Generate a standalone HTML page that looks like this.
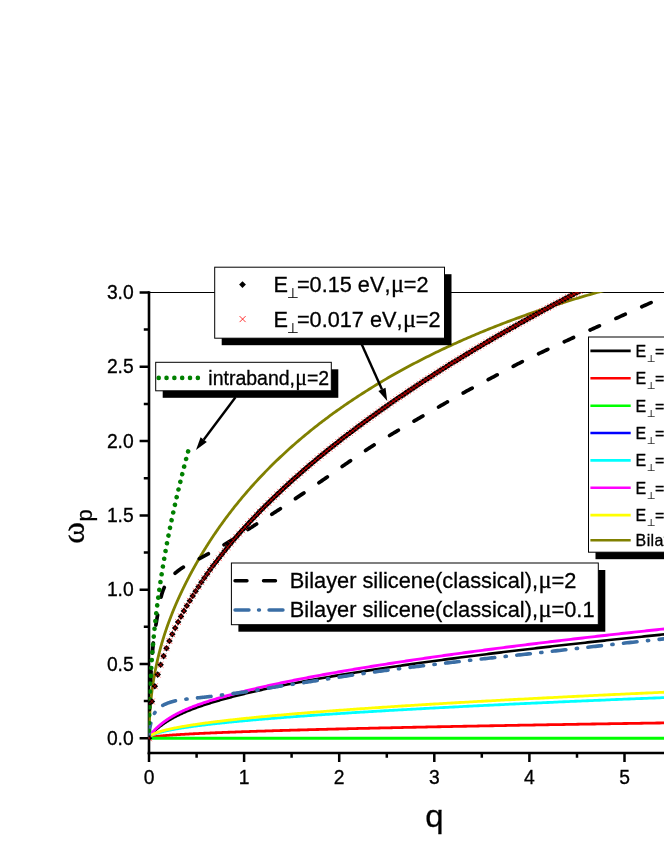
<!DOCTYPE html>
<html><head><meta charset="utf-8"><title>plot</title>
<style>html,body{margin:0;padding:0;background:#fff;}svg{display:block;font-family:"Liberation Sans",sans-serif;font-kerning:none;will-change:transform;-webkit-font-smoothing:antialiased;}text{stroke:#000;stroke-width:.3px;}.s{font-family:"Liberation Serif",serif;}.n{stroke-width:.15px;}</style></head><body>
<svg width="664" height="860" viewBox="0 0 664 860">
<rect width="664" height="860" fill="#fff"/>
<defs><clipPath id="cp"><rect x="148.5" y="292" width="530" height="470"/></clipPath></defs>
<g stroke="#000" fill="none">
<path d="M148 292.5 H664" stroke-width="1"/>
<path d="M149 291.2 V754.3" stroke-width="2.6"/>
<path d="M147.7 753.0 H664" stroke-width="2.6"/>
<path d="M139.6 738.3H149 M139.6 664.0H149 M139.6 589.7H149 M139.6 515.4H149 M139.6 441.1H149 M139.6 366.8H149 M139.6 292.5H149 M143.8 701.1H149 M143.8 626.8H149 M143.8 552.5H149 M143.8 478.2H149 M143.8 403.9H149 M143.8 329.6H149 " stroke-width="2.5"/>
<path d="M149.0 753.0V762 M244.1 753.0V762 M339.2 753.0V762 M434.3 753.0V762 M529.4 753.0V762 M624.5 753.0V762 M196.6 753.0V757.8 M291.6 753.0V757.8 M386.8 753.0V757.8 M481.8 753.0V757.8 M577.0 753.0V757.8 M672.0 753.0V757.8 " stroke-width="2.5"/>
</g>
<g font-size="18" fill="#000">
<text transform="translate(133.7 744.9) scale(1 1.045)" font-size="19.3" text-anchor="end" >0.0</text>
<text transform="translate(133.7 670.6) scale(1 1.045)" font-size="19.3" text-anchor="end" >0.5</text>
<text transform="translate(133.7 596.3) scale(1 1.045)" font-size="19.3" text-anchor="end" >1.0</text>
<text transform="translate(133.7 522.0) scale(1 1.045)" font-size="19.3" text-anchor="end" >1.5</text>
<text transform="translate(133.7 447.7) scale(1 1.045)" font-size="19.3" text-anchor="end" >2.0</text>
<text transform="translate(133.7 373.4) scale(1 1.045)" font-size="19.3" text-anchor="end" >2.5</text>
<text transform="translate(133.7 299.1) scale(1 1.045)" font-size="19.3" text-anchor="end" >3.0</text>
<text transform="translate(149.0 783.8) scale(1 1.045)" font-size="19.3" text-anchor="middle" >0</text>
<text transform="translate(244.1 783.8) scale(1 1.045)" font-size="19.3" text-anchor="middle" >1</text>
<text transform="translate(339.2 783.8) scale(1 1.045)" font-size="19.3" text-anchor="middle" >2</text>
<text transform="translate(434.3 783.8) scale(1 1.045)" font-size="19.3" text-anchor="middle" >3</text>
<text transform="translate(529.4 783.8) scale(1 1.045)" font-size="19.3" text-anchor="middle" >4</text>
<text transform="translate(624.5 783.8) scale(1 1.045)" font-size="19.3" text-anchor="middle" >5</text>
</g>
<text transform="translate(434.3 827.4) scale(1 0.945)" font-size="32.9" text-anchor="middle" >q</text>
<g transform="translate(84.3 543.8) rotate(-90)"><text class="s" font-size="33" transform="scale(1 0.955)" x="0" y="0">ω</text><text x="22.4" y="7.9" font-size="22">p</text></g>
<g clip-path="url(#cp)" fill="none" stroke-linejoin="round">
<path d="M149.00,738.30 L149.00,738.17 L149.01,738.04 L149.03,737.91 L149.05,737.78 L149.08,737.64 L149.12,737.51 L149.16,737.37 L149.21,737.24 L149.26,737.10 L149.33,736.96 L149.39,736.82 L149.47,736.68 L149.55,736.53 L149.64,736.38 L149.73,736.23 L149.83,736.08 L149.94,735.93 L150.05,735.77 L150.18,735.61 L150.30,735.44 L150.44,735.27 L150.58,735.10 L150.72,734.93 L150.88,734.75 L151.03,734.57 L151.20,734.38 L151.37,734.19 L151.55,734.00 L151.74,733.81 L151.93,733.60 L152.13,733.40 L152.33,733.19 L152.55,732.98 L152.76,732.77 L152.99,732.55 L153.22,732.32 L153.46,732.10 L153.70,731.86 L153.95,731.63 L154.21,731.39 L154.47,731.15 L154.74,730.90 L155.02,730.65 L155.30,730.40 L155.59,730.15 L155.89,729.89 L156.19,729.63 L156.50,729.36 L156.82,729.09 L157.14,728.82 L157.47,728.55 L157.80,728.27 L158.14,727.99 L158.49,727.71 L158.85,727.42 L159.21,727.14 L159.58,726.85 L159.95,726.56 L160.33,726.27 L160.72,725.97 L161.11,725.68 L161.51,725.38 L161.92,725.08 L162.33,724.78 L162.75,724.48 L163.18,724.17 L163.61,723.87 L164.05,723.56 L164.50,723.26 L164.95,722.95 L165.41,722.64 L165.88,722.34 L166.35,722.03 L166.83,721.72 L167.31,721.41 L167.80,721.10 L168.30,720.79 L168.81,720.48 L169.32,720.17 L169.84,719.86 L170.36,719.55 L170.89,719.24 L171.43,718.94 L171.97,718.63 L172.52,718.32 L173.08,718.01 L173.64,717.70 L174.21,717.40 L174.79,717.09 L175.37,716.78 L175.96,716.48 L176.56,716.17 L177.16,715.87 L177.77,715.57 L178.38,715.26 L179.00,714.96 L179.63,714.66 L180.27,714.36 L180.91,714.06 L181.56,713.76 L182.21,713.46 L182.87,713.16 L183.54,712.86 L184.21,712.57 L184.89,712.27 L185.58,711.98 L186.27,711.68 L186.97,711.39 L187.68,711.10 L188.39,710.80 L189.11,710.51 L189.84,710.22 L190.57,709.93 L191.31,709.64 L192.06,709.35 L192.81,709.07 L193.57,708.78 L194.33,708.49 L195.10,708.21 L195.88,707.92 L196.67,707.64 L197.46,707.35 L198.25,707.07 L199.06,706.78 L199.87,706.50 L200.69,706.22 L201.51,705.94 L202.34,705.66 L203.18,705.38 L204.02,705.09 L204.87,704.81 L205.73,704.54 L206.59,704.26 L207.46,703.98 L208.33,703.70 L209.22,703.42 L210.10,703.14 L211.00,702.87 L211.90,702.59 L212.81,702.31 L213.72,702.04 L214.65,701.76 L215.57,701.49 L216.51,701.21 L217.45,700.94 L218.40,700.66 L219.35,700.39 L220.31,700.12 L221.28,699.84 L222.25,699.57 L223.23,699.30 L224.22,699.02 L225.21,698.75 L226.21,698.48 L227.22,698.21 L228.23,697.93 L229.25,697.66 L230.27,697.39 L231.30,697.12 L232.34,696.85 L233.39,696.58 L234.44,696.31 L235.50,696.04 L236.56,695.77 L237.63,695.50 L238.71,695.23 L239.80,694.96 L240.89,694.69 L241.98,694.42 L243.09,694.15 L244.20,693.88 L245.31,693.61 L246.44,693.35 L247.57,693.08 L248.70,692.81 L249.85,692.54 L250.99,692.27 L252.15,692.01 L253.31,691.74 L254.48,691.47 L255.66,691.20 L256.84,690.94 L258.03,690.67 L259.22,690.40 L260.42,690.14 L261.63,689.87 L262.85,689.60 L264.07,689.34 L265.29,689.07 L266.53,688.80 L267.77,688.54 L269.01,688.27 L270.27,688.01 L271.53,687.74 L272.79,687.48 L274.07,687.21 L275.35,686.95 L276.63,686.68 L277.93,686.42 L279.22,686.15 L280.53,685.89 L281.84,685.62 L283.16,685.36 L284.49,685.09 L285.82,684.83 L287.15,684.56 L288.50,684.30 L289.85,684.04 L291.21,683.77 L292.57,683.51 L293.94,683.24 L295.32,682.98 L296.70,682.72 L298.09,682.45 L299.49,682.19 L300.89,681.92 L302.30,681.66 L303.72,681.40 L305.14,681.13 L306.57,680.87 L308.01,680.61 L309.45,680.34 L310.90,680.08 L312.35,679.82 L313.81,679.56 L315.28,679.29 L316.76,679.03 L318.24,678.77 L319.73,678.50 L321.22,678.24 L322.72,677.98 L324.23,677.72 L325.74,677.45 L327.26,677.19 L328.79,676.93 L330.32,676.67 L331.86,676.40 L333.41,676.14 L334.96,675.88 L336.52,675.62 L338.09,675.36 L339.66,675.09 L341.24,674.83 L342.83,674.57 L344.42,674.31 L346.02,674.04 L347.62,673.78 L349.23,673.52 L350.85,673.26 L352.48,673.00 L354.11,672.74 L355.74,672.47 L357.39,672.21 L359.04,671.95 L360.70,671.69 L362.36,671.43 L364.03,671.16 L365.71,670.90 L367.39,670.64 L369.08,670.38 L370.77,670.12 L372.48,669.86 L374.19,669.59 L375.90,669.33 L377.62,669.07 L379.35,668.81 L381.09,668.55 L382.83,668.29 L384.58,668.02 L386.33,667.76 L388.09,667.50 L389.86,667.24 L391.64,666.98 L393.42,666.72 L395.20,666.46 L397.00,666.19 L398.80,665.93 L400.61,665.67 L402.42,665.41 L404.24,665.15 L406.07,664.89 L407.90,664.63 L409.74,664.36 L411.58,664.10 L413.44,663.84 L415.30,663.58 L417.16,663.32 L419.03,663.06 L420.91,662.80 L422.80,662.53 L424.69,662.27 L426.59,662.01 L428.49,661.75 L430.40,661.49 L432.32,661.23 L434.24,660.97 L436.17,660.70 L438.11,660.44 L440.05,660.18 L442.00,659.92 L443.96,659.66 L445.92,659.40 L447.89,659.14 L449.87,658.88 L451.85,658.61 L453.84,658.35 L455.84,658.09 L457.84,657.83 L459.85,657.57 L461.86,657.31 L463.89,657.05 L465.91,656.78 L467.95,656.52 L469.99,656.26 L472.04,656.00 L474.09,655.74 L476.15,655.48 L478.22,655.22 L480.29,654.96 L482.37,654.69 L484.46,654.43 L486.55,654.17 L488.65,653.91 L490.76,653.65 L492.87,653.39 L494.99,653.13 L497.12,652.87 L499.25,652.60 L501.39,652.34 L503.53,652.08 L505.69,651.82 L507.85,651.56 L510.01,651.30 L512.18,651.04 L514.36,650.77 L516.54,650.51 L518.74,650.25 L520.93,649.99 L523.14,649.73 L525.35,649.47 L527.56,649.21 L529.79,648.95 L532.02,648.68 L534.25,648.42 L536.50,648.16 L538.75,647.90 L541.00,647.64 L543.27,647.38 L545.54,647.12 L547.81,646.86 L550.09,646.59 L552.38,646.33 L554.68,646.07 L556.98,645.81 L559.29,645.55 L561.60,645.29 L563.92,645.03 L566.25,644.77 L568.59,644.50 L570.93,644.24 L573.27,643.98 L575.63,643.72 L577.99,643.46 L580.35,643.20 L582.73,642.94 L585.11,642.68 L587.49,642.41 L589.89,642.15 L592.29,641.89 L594.69,641.63 L597.10,641.37 L599.52,641.11 L601.95,640.85 L604.38,640.59 L606.82,640.32 L609.26,640.06 L611.72,639.80 L614.17,639.54 L616.64,639.28 L619.11,639.02 L621.59,638.76 L624.07,638.50 L626.56,638.23 L629.06,637.97 L631.56,637.71 L634.07,637.45 L636.59,637.19 L639.11,636.93 L641.64,636.67 L644.18,636.40 L646.72,636.14 L649.27,635.88 L651.82,635.62 L654.39,635.36 L656.96,635.10 L659.53,634.84 L662.11,634.58 L664.70,634.31 L667.29,634.05" stroke="#000" stroke-width="2.6" />
<path d="M149.00,738.30 L149.00,738.26 L149.01,738.22 L149.03,738.18 L149.05,738.15 L149.08,738.11 L149.12,738.07 L149.16,738.03 L149.21,737.99 L149.26,737.95 L149.33,737.91 L149.39,737.87 L149.47,737.84 L149.55,737.80 L149.64,737.76 L149.73,737.72 L149.83,737.68 L149.94,737.64 L150.05,737.60 L150.18,737.56 L150.30,737.53 L150.44,737.49 L150.58,737.45 L150.72,737.41 L150.88,737.37 L151.03,737.33 L151.20,737.29 L151.37,737.26 L151.55,737.22 L151.74,737.18 L151.93,737.14 L152.13,737.10 L152.33,737.06 L152.55,737.02 L152.76,736.98 L152.99,736.95 L153.22,736.91 L153.46,736.87 L153.70,736.83 L153.95,736.79 L154.21,736.75 L154.47,736.71 L154.74,736.67 L155.02,736.64 L155.30,736.60 L155.59,736.56 L155.89,736.52 L156.19,736.48 L156.50,736.44 L156.82,736.40 L157.14,736.37 L157.47,736.33 L157.80,736.29 L158.14,736.25 L158.49,736.21 L158.85,736.17 L159.21,736.13 L159.58,736.09 L159.95,736.06 L160.33,736.02 L160.72,735.98 L161.11,735.94 L161.51,735.90 L161.92,735.86 L162.33,735.82 L162.75,735.79 L163.18,735.75 L163.61,735.71 L164.05,735.67 L164.50,735.63 L164.95,735.59 L165.41,735.55 L165.88,735.51 L166.35,735.48 L166.83,735.44 L167.31,735.40 L167.80,735.36 L168.30,735.32 L168.81,735.28 L169.32,735.24 L169.84,735.20 L170.36,735.17 L170.89,735.13 L171.43,735.09 L171.97,735.05 L172.52,735.01 L173.08,734.97 L173.64,734.93 L174.21,734.90 L174.79,734.86 L175.37,734.82 L175.96,734.78 L176.56,734.74 L177.16,734.70 L177.77,734.66 L178.38,734.62 L179.00,734.59 L179.63,734.55 L180.27,734.51 L180.91,734.47 L181.56,734.43 L182.21,734.39 L182.87,734.35 L183.54,734.31 L184.21,734.28 L184.89,734.24 L185.58,734.20 L186.27,734.16 L186.97,734.12 L187.68,734.08 L188.39,734.04 L189.11,734.01 L189.84,733.97 L190.57,733.93 L191.31,733.89 L192.06,733.85 L192.81,733.81 L193.57,733.77 L194.33,733.73 L195.10,733.70 L195.88,733.66 L196.67,733.62 L197.46,733.58 L198.25,733.54 L199.06,733.50 L199.87,733.46 L200.69,733.42 L201.51,733.39 L202.34,733.35 L203.18,733.31 L204.02,733.27 L204.87,733.23 L205.73,733.19 L206.59,733.15 L207.46,733.12 L208.33,733.08 L209.22,733.04 L210.10,733.00 L211.00,732.96 L211.90,732.92 L212.81,732.88 L213.72,732.84 L214.65,732.81 L215.57,732.77 L216.51,732.73 L217.45,732.69 L218.40,732.65 L219.35,732.61 L220.31,732.57 L221.28,732.54 L222.25,732.50 L223.23,732.46 L224.22,732.42 L225.21,732.38 L226.21,732.34 L227.22,732.30 L228.23,732.26 L229.25,732.23 L230.27,732.19 L231.30,732.15 L232.34,732.11 L233.39,732.07 L234.44,732.03 L235.50,731.99 L236.56,731.95 L237.63,731.92 L238.71,731.88 L239.80,731.84 L240.89,731.80 L241.98,731.76 L243.09,731.72 L244.20,731.68 L245.31,731.65 L246.44,731.61 L247.57,731.57 L248.70,731.53 L249.85,731.49 L250.99,731.45 L252.15,731.41 L253.31,731.37 L254.48,731.34 L255.66,731.30 L256.84,731.26 L258.03,731.22 L259.22,731.18 L260.42,731.14 L261.63,731.10 L262.85,731.06 L264.07,731.03 L265.29,730.99 L266.53,730.95 L267.77,730.91 L269.01,730.87 L270.27,730.83 L271.53,730.79 L272.79,730.76 L274.07,730.72 L275.35,730.68 L276.63,730.64 L277.93,730.60 L279.22,730.56 L280.53,730.52 L281.84,730.48 L283.16,730.45 L284.49,730.41 L285.82,730.37 L287.15,730.33 L288.50,730.29 L289.85,730.25 L291.21,730.21 L292.57,730.17 L293.94,730.14 L295.32,730.10 L296.70,730.06 L298.09,730.02 L299.49,729.98 L300.89,729.94 L302.30,729.90 L303.72,729.87 L305.14,729.83 L306.57,729.79 L308.01,729.75 L309.45,729.71 L310.90,729.67 L312.35,729.63 L313.81,729.59 L315.28,729.56 L316.76,729.52 L318.24,729.48 L319.73,729.44 L321.22,729.40 L322.72,729.36 L324.23,729.32 L325.74,729.29 L327.26,729.25 L328.79,729.21 L330.32,729.17 L331.86,729.13 L333.41,729.09 L334.96,729.05 L336.52,729.01 L338.09,728.98 L339.66,728.94 L341.24,728.90 L342.83,728.86 L344.42,728.82 L346.02,728.78 L347.62,728.74 L349.23,728.70 L350.85,728.67 L352.48,728.63 L354.11,728.59 L355.74,728.55 L357.39,728.51 L359.04,728.47 L360.70,728.43 L362.36,728.40 L364.03,728.36 L365.71,728.32 L367.39,728.28 L369.08,728.24 L370.77,728.20 L372.48,728.16 L374.19,728.12 L375.90,728.09 L377.62,728.05 L379.35,728.01 L381.09,727.97 L382.83,727.93 L384.58,727.89 L386.33,727.85 L388.09,727.81 L389.86,727.78 L391.64,727.74 L393.42,727.70 L395.20,727.66 L397.00,727.62 L398.80,727.58 L400.61,727.54 L402.42,727.51 L404.24,727.47 L406.07,727.43 L407.90,727.39 L409.74,727.35 L411.58,727.31 L413.44,727.27 L415.30,727.23 L417.16,727.20 L419.03,727.16 L420.91,727.12 L422.80,727.08 L424.69,727.04 L426.59,727.00 L428.49,726.96 L430.40,726.92 L432.32,726.89 L434.24,726.85 L436.17,726.81 L438.11,726.77 L440.05,726.73 L442.00,726.69 L443.96,726.65 L445.92,726.62 L447.89,726.58 L449.87,726.54 L451.85,726.50 L453.84,726.46 L455.84,726.42 L457.84,726.38 L459.85,726.34 L461.86,726.31 L463.89,726.27 L465.91,726.23 L467.95,726.19 L469.99,726.15 L472.04,726.11 L474.09,726.07 L476.15,726.04 L478.22,726.00 L480.29,725.96 L482.37,725.92 L484.46,725.88 L486.55,725.84 L488.65,725.80 L490.76,725.76 L492.87,725.73 L494.99,725.69 L497.12,725.65 L499.25,725.61 L501.39,725.57 L503.53,725.53 L505.69,725.49 L507.85,725.45 L510.01,725.42 L512.18,725.38 L514.36,725.34 L516.54,725.30 L518.74,725.26 L520.93,725.22 L523.14,725.18 L525.35,725.15 L527.56,725.11 L529.79,725.07 L532.02,725.03 L534.25,724.99 L536.50,724.95 L538.75,724.91 L541.00,724.87 L543.27,724.84 L545.54,724.80 L547.81,724.76 L550.09,724.72 L552.38,724.68 L554.68,724.64 L556.98,724.60 L559.29,724.56 L561.60,724.53 L563.92,724.49 L566.25,724.45 L568.59,724.41 L570.93,724.37 L573.27,724.33 L575.63,724.29 L577.99,724.26 L580.35,724.22 L582.73,724.18 L585.11,724.14 L587.49,724.10 L589.89,724.06 L592.29,724.02 L594.69,723.98 L597.10,723.95 L599.52,723.91 L601.95,723.87 L604.38,723.83 L606.82,723.79 L609.26,723.75 L611.72,723.71 L614.17,723.67 L616.64,723.64 L619.11,723.60 L621.59,723.56 L624.07,723.52 L626.56,723.48 L629.06,723.44 L631.56,723.40 L634.07,723.37 L636.59,723.33 L639.11,723.29 L641.64,723.25 L644.18,723.21 L646.72,723.17 L649.27,723.13 L651.82,723.09 L654.39,723.06 L656.96,723.02 L659.53,722.98 L662.11,722.94 L664.70,722.90 L667.29,722.86" stroke="#ff0000" stroke-width="2.8" />
<path d="M149.00,738.30 L149.00,738.30 L149.01,738.30 L149.03,738.30 L149.05,738.30 L149.08,738.30 L149.12,738.30 L149.16,738.30 L149.21,738.30 L149.26,738.30 L149.33,738.30 L149.39,738.30 L149.47,738.30 L149.55,738.30 L149.64,738.30 L149.73,738.30 L149.83,738.30 L149.94,738.30 L150.05,738.30 L150.18,738.30 L150.30,738.30 L150.44,738.30 L150.58,738.30 L150.72,738.30 L150.88,738.30 L151.03,738.30 L151.20,738.30 L151.37,738.30 L151.55,738.30 L151.74,738.30 L151.93,738.30 L152.13,738.30 L152.33,738.30 L152.55,738.30 L152.76,738.30 L152.99,738.30 L153.22,738.30 L153.46,738.30 L153.70,738.30 L153.95,738.30 L154.21,738.30 L154.47,738.30 L154.74,738.30 L155.02,738.30 L155.30,738.30 L155.59,738.30 L155.89,738.30 L156.19,738.30 L156.50,738.30 L156.82,738.30 L157.14,738.30 L157.47,738.30 L157.80,738.30 L158.14,738.30 L158.49,738.30 L158.85,738.30 L159.21,738.30 L159.58,738.30 L159.95,738.30 L160.33,738.30 L160.72,738.30 L161.11,738.30 L161.51,738.30 L161.92,738.30 L162.33,738.30 L162.75,738.30 L163.18,738.30 L163.61,738.30 L164.05,738.30 L164.50,738.30 L164.95,738.30 L165.41,738.30 L165.88,738.30 L166.35,738.30 L166.83,738.30 L167.31,738.30 L167.80,738.30 L168.30,738.30 L168.81,738.30 L169.32,738.30 L169.84,738.30 L170.36,738.30 L170.89,738.30 L171.43,738.30 L171.97,738.30 L172.52,738.30 L173.08,738.30 L173.64,738.30 L174.21,738.30 L174.79,738.30 L175.37,738.30 L175.96,738.30 L176.56,738.30 L177.16,738.30 L177.77,738.30 L178.38,738.30 L179.00,738.30 L179.63,738.30 L180.27,738.30 L180.91,738.30 L181.56,738.30 L182.21,738.30 L182.87,738.30 L183.54,738.30 L184.21,738.30 L184.89,738.30 L185.58,738.30 L186.27,738.30 L186.97,738.30 L187.68,738.30 L188.39,738.30 L189.11,738.30 L189.84,738.30 L190.57,738.30 L191.31,738.30 L192.06,738.30 L192.81,738.30 L193.57,738.30 L194.33,738.30 L195.10,738.30 L195.88,738.30 L196.67,738.30 L197.46,738.30 L198.25,738.30 L199.06,738.30 L199.87,738.30 L200.69,738.30 L201.51,738.30 L202.34,738.30 L203.18,738.30 L204.02,738.30 L204.87,738.30 L205.73,738.30 L206.59,738.30 L207.46,738.30 L208.33,738.30 L209.22,738.30 L210.10,738.30 L211.00,738.30 L211.90,738.30 L212.81,738.30 L213.72,738.30 L214.65,738.30 L215.57,738.30 L216.51,738.30 L217.45,738.30 L218.40,738.30 L219.35,738.30 L220.31,738.30 L221.28,738.30 L222.25,738.30 L223.23,738.30 L224.22,738.30 L225.21,738.30 L226.21,738.30 L227.22,738.30 L228.23,738.30 L229.25,738.30 L230.27,738.30 L231.30,738.30 L232.34,738.30 L233.39,738.30 L234.44,738.30 L235.50,738.30 L236.56,738.30 L237.63,738.30 L238.71,738.30 L239.80,738.30 L240.89,738.30 L241.98,738.30 L243.09,738.30 L244.20,738.30 L245.31,738.30 L246.44,738.30 L247.57,738.30 L248.70,738.30 L249.85,738.30 L250.99,738.30 L252.15,738.30 L253.31,738.30 L254.48,738.30 L255.66,738.30 L256.84,738.30 L258.03,738.30 L259.22,738.30 L260.42,738.30 L261.63,738.30 L262.85,738.30 L264.07,738.30 L265.29,738.30 L266.53,738.30 L267.77,738.30 L269.01,738.30 L270.27,738.30 L271.53,738.30 L272.79,738.30 L274.07,738.30 L275.35,738.30 L276.63,738.30 L277.93,738.30 L279.22,738.30 L280.53,738.30 L281.84,738.30 L283.16,738.30 L284.49,738.30 L285.82,738.30 L287.15,738.30 L288.50,738.30 L289.85,738.30 L291.21,738.30 L292.57,738.30 L293.94,738.30 L295.32,738.30 L296.70,738.30 L298.09,738.30 L299.49,738.30 L300.89,738.30 L302.30,738.30 L303.72,738.30 L305.14,738.30 L306.57,738.30 L308.01,738.30 L309.45,738.30 L310.90,738.30 L312.35,738.30 L313.81,738.30 L315.28,738.30 L316.76,738.30 L318.24,738.30 L319.73,738.30 L321.22,738.30 L322.72,738.30 L324.23,738.30 L325.74,738.30 L327.26,738.30 L328.79,738.30 L330.32,738.30 L331.86,738.30 L333.41,738.30 L334.96,738.30 L336.52,738.30 L338.09,738.30 L339.66,738.30 L341.24,738.30 L342.83,738.30 L344.42,738.30 L346.02,738.30 L347.62,738.30 L349.23,738.30 L350.85,738.30 L352.48,738.30 L354.11,738.30 L355.74,738.30 L357.39,738.30 L359.04,738.30 L360.70,738.30 L362.36,738.30 L364.03,738.30 L365.71,738.30 L367.39,738.30 L369.08,738.30 L370.77,738.30 L372.48,738.30 L374.19,738.30 L375.90,738.30 L377.62,738.30 L379.35,738.30 L381.09,738.30 L382.83,738.30 L384.58,738.30 L386.33,738.30 L388.09,738.30 L389.86,738.30 L391.64,738.30 L393.42,738.30 L395.20,738.30 L397.00,738.30 L398.80,738.30 L400.61,738.30 L402.42,738.30 L404.24,738.30 L406.07,738.30 L407.90,738.30 L409.74,738.30 L411.58,738.30 L413.44,738.30 L415.30,738.30 L417.16,738.30 L419.03,738.30 L420.91,738.30 L422.80,738.30 L424.69,738.30 L426.59,738.30 L428.49,738.30 L430.40,738.30 L432.32,738.30 L434.24,738.30 L436.17,738.30 L438.11,738.30 L440.05,738.30 L442.00,738.30 L443.96,738.30 L445.92,738.30 L447.89,738.30 L449.87,738.30 L451.85,738.30 L453.84,738.30 L455.84,738.30 L457.84,738.30 L459.85,738.30 L461.86,738.30 L463.89,738.30 L465.91,738.30 L467.95,738.30 L469.99,738.30 L472.04,738.30 L474.09,738.30 L476.15,738.30 L478.22,738.30 L480.29,738.30 L482.37,738.30 L484.46,738.30 L486.55,738.30 L488.65,738.30 L490.76,738.30 L492.87,738.30 L494.99,738.30 L497.12,738.30 L499.25,738.30 L501.39,738.30 L503.53,738.30 L505.69,738.30 L507.85,738.30 L510.01,738.30 L512.18,738.30 L514.36,738.30 L516.54,738.30 L518.74,738.30 L520.93,738.30 L523.14,738.30 L525.35,738.30 L527.56,738.30 L529.79,738.30 L532.02,738.30 L534.25,738.30 L536.50,738.30 L538.75,738.30 L541.00,738.30 L543.27,738.30 L545.54,738.30 L547.81,738.30 L550.09,738.30 L552.38,738.30 L554.68,738.30 L556.98,738.30 L559.29,738.30 L561.60,738.30 L563.92,738.30 L566.25,738.30 L568.59,738.30 L570.93,738.30 L573.27,738.30 L575.63,738.30 L577.99,738.30 L580.35,738.30 L582.73,738.30 L585.11,738.30 L587.49,738.30 L589.89,738.30 L592.29,738.30 L594.69,738.30 L597.10,738.30 L599.52,738.30 L601.95,738.30 L604.38,738.30 L606.82,738.30 L609.26,738.30 L611.72,738.30 L614.17,738.30 L616.64,738.30 L619.11,738.30 L621.59,738.30 L624.07,738.30 L626.56,738.30 L629.06,738.30 L631.56,738.30 L634.07,738.30 L636.59,738.30 L639.11,738.30 L641.64,738.30 L644.18,738.30 L646.72,738.30 L649.27,738.30 L651.82,738.30 L654.39,738.30 L656.96,738.30 L659.53,738.30 L662.11,738.30 L664.70,738.30 L667.29,738.30" stroke="#00ff00" stroke-width="3.0" />
<path d="M149.00,738.30 L149.00,738.20 L149.01,738.10 L149.03,737.99 L149.05,737.89 L149.08,737.79 L149.12,737.69 L149.16,737.58 L149.21,737.48 L149.26,737.38 L149.33,737.28 L149.39,737.17 L149.47,737.07 L149.55,736.97 L149.64,736.87 L149.73,736.76 L149.83,736.66 L149.94,736.56 L150.05,736.46 L150.18,736.36 L150.30,736.25 L150.44,736.15 L150.58,736.05 L150.72,735.95 L150.88,735.84 L151.03,735.74 L151.20,735.64 L151.37,735.54 L151.55,735.43 L151.74,735.33 L151.93,735.23 L152.13,735.13 L152.33,735.03 L152.55,734.92 L152.76,734.82 L152.99,734.72 L153.22,734.62 L153.46,734.51 L153.70,734.41 L153.95,734.31 L154.21,734.21 L154.47,734.10 L154.74,734.00 L155.02,733.90 L155.30,733.80 L155.59,733.69 L155.89,733.59 L156.19,733.49 L156.50,733.39 L156.82,733.29 L157.14,733.18 L157.47,733.08 L157.80,732.98 L158.14,732.88 L158.49,732.77 L158.85,732.67 L159.21,732.57 L159.58,732.47 L159.95,732.36 L160.33,732.26 L160.72,732.16 L161.11,732.06 L161.51,731.96 L161.92,731.85 L162.33,731.75 L162.75,731.65 L163.18,731.55 L163.61,731.44 L164.05,731.34 L164.50,731.24 L164.95,731.14 L165.41,731.03 L165.88,730.93 L166.35,730.83 L166.83,730.73 L167.31,730.62 L167.80,730.52 L168.30,730.42 L168.81,730.32 L169.32,730.22 L169.84,730.11 L170.36,730.01 L170.89,729.91 L171.43,729.81 L171.97,729.70 L172.52,729.60 L173.08,729.50 L173.64,729.40 L174.21,729.29 L174.79,729.19 L175.37,729.09 L175.96,728.99 L176.56,728.89 L177.16,728.78 L177.77,728.68 L178.38,728.58 L179.00,728.48 L179.63,728.37 L180.27,728.27 L180.91,728.17 L181.56,728.07 L182.21,727.96 L182.87,727.86 L183.54,727.76 L184.21,727.66 L184.89,727.55 L185.58,727.45 L186.27,727.35 L186.97,727.25 L187.68,727.15 L188.39,727.04 L189.11,726.94 L189.84,726.84 L190.57,726.74 L191.31,726.63 L192.06,726.53 L192.81,726.43 L193.57,726.33 L194.33,726.22 L195.10,726.12 L195.88,726.02 L196.67,725.92 L197.46,725.82 L198.25,725.71 L199.06,725.61 L199.87,725.51 L200.69,725.41 L201.51,725.30 L202.34,725.20 L203.18,725.10 L204.02,725.00 L204.87,724.89 L205.73,724.79 L206.59,724.69 L207.46,724.59 L208.33,724.48 L209.22,724.38 L210.10,724.28 L211.00,724.18 L211.90,724.08 L212.81,723.97 L213.72,723.87 L214.65,723.77 L215.57,723.67 L216.51,723.56 L217.45,723.46 L218.40,723.36 L219.35,723.26 L220.31,723.15 L221.28,723.05 L222.25,722.95 L223.23,722.85 L224.22,722.75 L225.21,722.64 L226.21,722.54 L227.22,722.44 L228.23,722.34 L229.25,722.23 L230.27,722.13 L231.30,722.03 L232.34,721.93 L233.39,721.82 L234.44,721.72 L235.50,721.62 L236.56,721.52 L237.63,721.41 L238.71,721.31 L239.80,721.21 L240.89,721.11 L241.98,721.01 L243.09,720.90 L244.20,720.80 L245.31,720.70 L246.44,720.60 L247.57,720.49 L248.70,720.39 L249.85,720.29 L250.99,720.19 L252.15,720.08 L253.31,719.98 L254.48,719.88 L255.66,719.78 L256.84,719.68 L258.03,719.57 L259.22,719.47 L260.42,719.37 L261.63,719.27 L262.85,719.16 L264.07,719.06 L265.29,718.96 L266.53,718.86 L267.77,718.75 L269.01,718.65 L270.27,718.55 L271.53,718.45 L272.79,718.34 L274.07,718.24 L275.35,718.14 L276.63,718.04 L277.93,717.94 L279.22,717.83 L280.53,717.73 L281.84,717.63 L283.16,717.53 L284.49,717.42 L285.82,717.32 L287.15,717.22 L288.50,717.12 L289.85,717.01 L291.21,716.91 L292.57,716.81 L293.94,716.71 L295.32,716.61 L296.70,716.50 L298.09,716.40 L299.49,716.30 L300.89,716.20 L302.30,716.09 L303.72,715.99 L305.14,715.89 L306.57,715.79 L308.01,715.68 L309.45,715.58 L310.90,715.48 L312.35,715.38 L313.81,715.27 L315.28,715.17 L316.76,715.07 L318.24,714.97 L319.73,714.87 L321.22,714.76 L322.72,714.66 L324.23,714.56 L325.74,714.46 L327.26,714.35 L328.79,714.25 L330.32,714.15 L331.86,714.05 L333.41,713.94 L334.96,713.84 L336.52,713.74 L338.09,713.64 L339.66,713.54 L341.24,713.43 L342.83,713.33 L344.42,713.23 L346.02,713.13 L347.62,713.02 L349.23,712.92 L350.85,712.82 L352.48,712.72 L354.11,712.61 L355.74,712.51 L357.39,712.41 L359.04,712.31 L360.70,712.20 L362.36,712.10 L364.03,712.00 L365.71,711.90 L367.39,711.80 L369.08,711.69 L370.77,711.59 L372.48,711.49 L374.19,711.39 L375.90,711.28 L377.62,711.18 L379.35,711.08 L381.09,710.98 L382.83,710.87 L384.58,710.77 L386.33,710.67 L388.09,710.57 L389.86,710.47 L391.64,710.36 L393.42,710.26 L395.20,710.16 L397.00,710.06 L398.80,709.95 L400.61,709.85 L402.42,709.75 L404.24,709.65 L406.07,709.54 L407.90,709.44 L409.74,709.34 L411.58,709.24 L413.44,709.13 L415.30,709.03 L417.16,708.93 L419.03,708.83 L420.91,708.73 L422.80,708.62 L424.69,708.52 L426.59,708.42 L428.49,708.32 L430.40,708.21 L432.32,708.11 L434.24,708.01 L436.17,707.91 L438.11,707.80 L440.05,707.70 L442.00,707.60 L443.96,707.50 L445.92,707.40 L447.89,707.29 L449.87,707.19 L451.85,707.09 L453.84,706.99 L455.84,706.88 L457.84,706.78 L459.85,706.68 L461.86,706.58 L463.89,706.47 L465.91,706.37 L467.95,706.27 L469.99,706.17 L472.04,706.06 L474.09,705.96 L476.15,705.86 L478.22,705.76 L480.29,705.66 L482.37,705.55 L484.46,705.45 L486.55,705.35 L488.65,705.25 L490.76,705.14 L492.87,705.04 L494.99,704.94 L497.12,704.84 L499.25,704.73 L501.39,704.63 L503.53,704.53 L505.69,704.43 L507.85,704.33 L510.01,704.22 L512.18,704.12 L514.36,704.02 L516.54,703.92 L518.74,703.81 L520.93,703.71 L523.14,703.61 L525.35,703.51 L527.56,703.40 L529.79,703.30 L532.02,703.20 L534.25,703.10 L536.50,702.99 L538.75,702.89 L541.00,702.79 L543.27,702.69 L545.54,702.59 L547.81,702.48 L550.09,702.38 L552.38,702.28 L554.68,702.18 L556.98,702.07 L559.29,701.97 L561.60,701.87 L563.92,701.77 L566.25,701.66 L568.59,701.56 L570.93,701.46 L573.27,701.36 L575.63,701.26 L577.99,701.15 L580.35,701.05 L582.73,700.95 L585.11,700.85 L587.49,700.74 L589.89,700.64 L592.29,700.54 L594.69,700.44 L597.10,700.33 L599.52,700.23 L601.95,700.13 L604.38,700.03 L606.82,699.92 L609.26,699.82 L611.72,699.72 L614.17,699.62 L616.64,699.52 L619.11,699.41 L621.59,699.31 L624.07,699.21 L626.56,699.11 L629.06,699.00 L631.56,698.90 L634.07,698.80 L636.59,698.70 L639.11,698.59 L641.64,698.49 L644.18,698.39 L646.72,698.29 L649.27,698.19 L651.82,698.08 L654.39,697.98 L656.96,697.88 L659.53,697.78 L662.11,697.67 L664.70,697.57 L667.29,697.47" stroke="#00ffff" stroke-width="2.8" />
<path d="M149.00,738.30 L149.00,738.15 L149.01,738.00 L149.03,737.85 L149.05,737.69 L149.08,737.54 L149.12,737.39 L149.16,737.23 L149.21,737.07 L149.26,736.91 L149.33,736.75 L149.39,736.59 L149.47,736.43 L149.55,736.26 L149.64,736.09 L149.73,735.92 L149.83,735.74 L149.94,735.56 L150.05,735.38 L150.18,735.20 L150.30,735.01 L150.44,734.82 L150.58,734.62 L150.72,734.42 L150.88,734.22 L151.03,734.01 L151.20,733.80 L151.37,733.59 L151.55,733.37 L151.74,733.15 L151.93,732.92 L152.13,732.69 L152.33,732.46 L152.55,732.22 L152.76,731.98 L152.99,731.73 L153.22,731.48 L153.46,731.22 L153.70,730.97 L153.95,730.70 L154.21,730.44 L154.47,730.17 L154.74,729.89 L155.02,729.62 L155.30,729.34 L155.59,729.05 L155.89,728.76 L156.19,728.47 L156.50,728.18 L156.82,727.88 L157.14,727.58 L157.47,727.28 L157.80,726.98 L158.14,726.67 L158.49,726.36 L158.85,726.05 L159.21,725.74 L159.58,725.42 L159.95,725.10 L160.33,724.78 L160.72,724.46 L161.11,724.14 L161.51,723.82 L161.92,723.49 L162.33,723.16 L162.75,722.84 L163.18,722.51 L163.61,722.18 L164.05,721.85 L164.50,721.52 L164.95,721.19 L165.41,720.86 L165.88,720.53 L166.35,720.20 L166.83,719.87 L167.31,719.54 L167.80,719.21 L168.30,718.88 L168.81,718.56 L169.32,718.23 L169.84,717.90 L170.36,717.57 L170.89,717.24 L171.43,716.92 L171.97,716.59 L172.52,716.27 L173.08,715.94 L173.64,715.62 L174.21,715.30 L174.79,714.98 L175.37,714.66 L175.96,714.34 L176.56,714.02 L177.16,713.71 L177.77,713.39 L178.38,713.08 L179.00,712.76 L179.63,712.45 L180.27,712.14 L180.91,711.83 L181.56,711.52 L182.21,711.21 L182.87,710.90 L183.54,710.60 L184.21,710.29 L184.89,709.99 L185.58,709.69 L186.27,709.39 L186.97,709.09 L187.68,708.79 L188.39,708.49 L189.11,708.19 L189.84,707.89 L190.57,707.60 L191.31,707.30 L192.06,707.01 L192.81,706.72 L193.57,706.42 L194.33,706.13 L195.10,705.84 L195.88,705.55 L196.67,705.26 L197.46,704.97 L198.25,704.69 L199.06,704.40 L199.87,704.11 L200.69,703.83 L201.51,703.54 L202.34,703.26 L203.18,702.97 L204.02,702.69 L204.87,702.40 L205.73,702.12 L206.59,701.84 L207.46,701.56 L208.33,701.27 L209.22,700.99 L210.10,700.71 L211.00,700.43 L211.90,700.15 L212.81,699.87 L213.72,699.59 L214.65,699.31 L215.57,699.03 L216.51,698.76 L217.45,698.48 L218.40,698.20 L219.35,697.92 L220.31,697.64 L221.28,697.37 L222.25,697.09 L223.23,696.81 L224.22,696.53 L225.21,696.26 L226.21,695.98 L227.22,695.70 L228.23,695.43 L229.25,695.15 L230.27,694.87 L231.30,694.60 L232.34,694.32 L233.39,694.05 L234.44,693.77 L235.50,693.49 L236.56,693.22 L237.63,692.94 L238.71,692.67 L239.80,692.39 L240.89,692.12 L241.98,691.84 L243.09,691.57 L244.20,691.29 L245.31,691.01 L246.44,690.74 L247.57,690.46 L248.70,690.19 L249.85,689.91 L250.99,689.64 L252.15,689.36 L253.31,689.09 L254.48,688.81 L255.66,688.54 L256.84,688.26 L258.03,687.99 L259.22,687.71 L260.42,687.44 L261.63,687.16 L262.85,686.89 L264.07,686.61 L265.29,686.34 L266.53,686.06 L267.77,685.79 L269.01,685.51 L270.27,685.24 L271.53,684.96 L272.79,684.69 L274.07,684.41 L275.35,684.14 L276.63,683.86 L277.93,683.59 L279.22,683.31 L280.53,683.04 L281.84,682.76 L283.16,682.49 L284.49,682.21 L285.82,681.94 L287.15,681.66 L288.50,681.39 L289.85,681.11 L291.21,680.84 L292.57,680.56 L293.94,680.29 L295.32,680.01 L296.70,679.74 L298.09,679.46 L299.49,679.19 L300.89,678.91 L302.30,678.64 L303.72,678.36 L305.14,678.09 L306.57,677.81 L308.01,677.54 L309.45,677.26 L310.90,676.99 L312.35,676.71 L313.81,676.44 L315.28,676.16 L316.76,675.89 L318.24,675.61 L319.73,675.34 L321.22,675.06 L322.72,674.79 L324.23,674.51 L325.74,674.24 L327.26,673.96 L328.79,673.69 L330.32,673.41 L331.86,673.14 L333.41,672.86 L334.96,672.59 L336.52,672.31 L338.09,672.04 L339.66,671.76 L341.24,671.49 L342.83,671.21 L344.42,670.94 L346.02,670.66 L347.62,670.39 L349.23,670.11 L350.85,669.84 L352.48,669.56 L354.11,669.29 L355.74,669.01 L357.39,668.74 L359.04,668.46 L360.70,668.19 L362.36,667.91 L364.03,667.64 L365.71,667.36 L367.39,667.09 L369.08,666.81 L370.77,666.54 L372.48,666.26 L374.19,665.99 L375.90,665.71 L377.62,665.44 L379.35,665.16 L381.09,664.89 L382.83,664.62 L384.58,664.34 L386.33,664.07 L388.09,663.79 L389.86,663.52 L391.64,663.24 L393.42,662.97 L395.20,662.69 L397.00,662.42 L398.80,662.14 L400.61,661.87 L402.42,661.59 L404.24,661.32 L406.07,661.04 L407.90,660.77 L409.74,660.49 L411.58,660.22 L413.44,659.94 L415.30,659.67 L417.16,659.39 L419.03,659.12 L420.91,658.84 L422.80,658.57 L424.69,658.29 L426.59,658.02 L428.49,657.74 L430.40,657.47 L432.32,657.19 L434.24,656.92 L436.17,656.64 L438.11,656.37 L440.05,656.09 L442.00,655.82 L443.96,655.54 L445.92,655.27 L447.89,654.99 L449.87,654.72 L451.85,654.44 L453.84,654.17 L455.84,653.89 L457.84,653.62 L459.85,653.34 L461.86,653.07 L463.89,652.79 L465.91,652.52 L467.95,652.24 L469.99,651.97 L472.04,651.69 L474.09,651.42 L476.15,651.14 L478.22,650.87 L480.29,650.59 L482.37,650.32 L484.46,650.04 L486.55,649.77 L488.65,649.49 L490.76,649.22 L492.87,648.94 L494.99,648.67 L497.12,648.39 L499.25,648.12 L501.39,647.84 L503.53,647.57 L505.69,647.29 L507.85,647.02 L510.01,646.74 L512.18,646.47 L514.36,646.19 L516.54,645.92 L518.74,645.64 L520.93,645.37 L523.14,645.09 L525.35,644.82 L527.56,644.54 L529.79,644.27 L532.02,643.99 L534.25,643.72 L536.50,643.44 L538.75,643.17 L541.00,642.89 L543.27,642.62 L545.54,642.34 L547.81,642.07 L550.09,641.79 L552.38,641.52 L554.68,641.24 L556.98,640.97 L559.29,640.69 L561.60,640.42 L563.92,640.15 L566.25,639.87 L568.59,639.60 L570.93,639.32 L573.27,639.05 L575.63,638.77 L577.99,638.50 L580.35,638.22 L582.73,637.95 L585.11,637.67 L587.49,637.40 L589.89,637.12 L592.29,636.85 L594.69,636.57 L597.10,636.30 L599.52,636.02 L601.95,635.75 L604.38,635.47 L606.82,635.20 L609.26,634.92 L611.72,634.65 L614.17,634.37 L616.64,634.10 L619.11,633.82 L621.59,633.55 L624.07,633.27 L626.56,633.00 L629.06,632.72 L631.56,632.45 L634.07,632.17 L636.59,631.90 L639.11,631.62 L641.64,631.35 L644.18,631.07 L646.72,630.80 L649.27,630.52 L651.82,630.25 L654.39,629.97 L656.96,629.70 L659.53,629.42 L662.11,629.15 L664.70,628.87 L667.29,628.60" stroke="#ff00ff" stroke-width="2.9" />
<path d="M149.00,738.30 L149.00,738.18 L149.01,738.07 L149.03,737.95 L149.05,737.84 L149.08,737.72 L149.12,737.61 L149.16,737.49 L149.21,737.37 L149.26,737.26 L149.33,737.14 L149.39,737.03 L149.47,736.91 L149.55,736.79 L149.64,736.68 L149.73,736.56 L149.83,736.45 L149.94,736.33 L150.05,736.22 L150.18,736.10 L150.30,735.98 L150.44,735.87 L150.58,735.75 L150.72,735.64 L150.88,735.52 L151.03,735.40 L151.20,735.29 L151.37,735.17 L151.55,735.06 L151.74,734.94 L151.93,734.83 L152.13,734.71 L152.33,734.59 L152.55,734.48 L152.76,734.36 L152.99,734.25 L153.22,734.13 L153.46,734.02 L153.70,733.90 L153.95,733.78 L154.21,733.67 L154.47,733.55 L154.74,733.44 L155.02,733.32 L155.30,733.20 L155.59,733.09 L155.89,732.97 L156.19,732.86 L156.50,732.74 L156.82,732.63 L157.14,732.51 L157.47,732.39 L157.80,732.28 L158.14,732.16 L158.49,732.05 L158.85,731.93 L159.21,731.81 L159.58,731.70 L159.95,731.58 L160.33,731.47 L160.72,731.35 L161.11,731.24 L161.51,731.12 L161.92,731.00 L162.33,730.89 L162.75,730.77 L163.18,730.66 L163.61,730.54 L164.05,730.42 L164.50,730.31 L164.95,730.19 L165.41,730.08 L165.88,729.96 L166.35,729.85 L166.83,729.73 L167.31,729.61 L167.80,729.50 L168.30,729.38 L168.81,729.27 L169.32,729.15 L169.84,729.04 L170.36,728.92 L170.89,728.80 L171.43,728.69 L171.97,728.57 L172.52,728.46 L173.08,728.34 L173.64,728.22 L174.21,728.11 L174.79,727.99 L175.37,727.88 L175.96,727.76 L176.56,727.65 L177.16,727.53 L177.77,727.41 L178.38,727.30 L179.00,727.18 L179.63,727.07 L180.27,726.95 L180.91,726.83 L181.56,726.72 L182.21,726.60 L182.87,726.49 L183.54,726.37 L184.21,726.26 L184.89,726.14 L185.58,726.02 L186.27,725.91 L186.97,725.79 L187.68,725.68 L188.39,725.56 L189.11,725.45 L189.84,725.33 L190.57,725.21 L191.31,725.10 L192.06,724.98 L192.81,724.87 L193.57,724.75 L194.33,724.63 L195.10,724.52 L195.88,724.40 L196.67,724.29 L197.46,724.17 L198.25,724.06 L199.06,723.94 L199.87,723.82 L200.69,723.71 L201.51,723.59 L202.34,723.48 L203.18,723.36 L204.02,723.24 L204.87,723.13 L205.73,723.01 L206.59,722.90 L207.46,722.78 L208.33,722.67 L209.22,722.55 L210.10,722.43 L211.00,722.32 L211.90,722.20 L212.81,722.09 L213.72,721.97 L214.65,721.85 L215.57,721.74 L216.51,721.62 L217.45,721.51 L218.40,721.39 L219.35,721.28 L220.31,721.16 L221.28,721.04 L222.25,720.93 L223.23,720.81 L224.22,720.70 L225.21,720.58 L226.21,720.47 L227.22,720.35 L228.23,720.23 L229.25,720.12 L230.27,720.00 L231.30,719.89 L232.34,719.77 L233.39,719.65 L234.44,719.54 L235.50,719.42 L236.56,719.31 L237.63,719.19 L238.71,719.08 L239.80,718.96 L240.89,718.84 L241.98,718.73 L243.09,718.61 L244.20,718.50 L245.31,718.38 L246.44,718.26 L247.57,718.15 L248.70,718.03 L249.85,717.92 L250.99,717.80 L252.15,717.69 L253.31,717.57 L254.48,717.45 L255.66,717.34 L256.84,717.22 L258.03,717.11 L259.22,716.99 L260.42,716.88 L261.63,716.76 L262.85,716.64 L264.07,716.53 L265.29,716.41 L266.53,716.30 L267.77,716.18 L269.01,716.06 L270.27,715.95 L271.53,715.83 L272.79,715.72 L274.07,715.60 L275.35,715.49 L276.63,715.37 L277.93,715.25 L279.22,715.14 L280.53,715.02 L281.84,714.91 L283.16,714.79 L284.49,714.67 L285.82,714.56 L287.15,714.44 L288.50,714.33 L289.85,714.21 L291.21,714.10 L292.57,713.98 L293.94,713.86 L295.32,713.75 L296.70,713.63 L298.09,713.52 L299.49,713.40 L300.89,713.28 L302.30,713.17 L303.72,713.05 L305.14,712.94 L306.57,712.82 L308.01,712.71 L309.45,712.59 L310.90,712.47 L312.35,712.36 L313.81,712.24 L315.28,712.13 L316.76,712.01 L318.24,711.90 L319.73,711.78 L321.22,711.66 L322.72,711.55 L324.23,711.43 L325.74,711.32 L327.26,711.20 L328.79,711.08 L330.32,710.97 L331.86,710.85 L333.41,710.74 L334.96,710.62 L336.52,710.51 L338.09,710.39 L339.66,710.27 L341.24,710.16 L342.83,710.04 L344.42,709.93 L346.02,709.81 L347.62,709.69 L349.23,709.58 L350.85,709.46 L352.48,709.35 L354.11,709.23 L355.74,709.12 L357.39,709.00 L359.04,708.88 L360.70,708.77 L362.36,708.65 L364.03,708.54 L365.71,708.42 L367.39,708.31 L369.08,708.19 L370.77,708.07 L372.48,707.96 L374.19,707.84 L375.90,707.73 L377.62,707.61 L379.35,707.49 L381.09,707.38 L382.83,707.26 L384.58,707.15 L386.33,707.03 L388.09,706.92 L389.86,706.80 L391.64,706.68 L393.42,706.57 L395.20,706.45 L397.00,706.34 L398.80,706.22 L400.61,706.10 L402.42,705.99 L404.24,705.87 L406.07,705.76 L407.90,705.64 L409.74,705.53 L411.58,705.41 L413.44,705.29 L415.30,705.18 L417.16,705.06 L419.03,704.95 L420.91,704.83 L422.80,704.71 L424.69,704.60 L426.59,704.48 L428.49,704.37 L430.40,704.25 L432.32,704.14 L434.24,704.02 L436.17,703.90 L438.11,703.79 L440.05,703.67 L442.00,703.56 L443.96,703.44 L445.92,703.33 L447.89,703.21 L449.87,703.09 L451.85,702.98 L453.84,702.86 L455.84,702.75 L457.84,702.63 L459.85,702.51 L461.86,702.40 L463.89,702.28 L465.91,702.17 L467.95,702.05 L469.99,701.94 L472.04,701.82 L474.09,701.70 L476.15,701.59 L478.22,701.47 L480.29,701.36 L482.37,701.24 L484.46,701.12 L486.55,701.01 L488.65,700.89 L490.76,700.78 L492.87,700.66 L494.99,700.55 L497.12,700.43 L499.25,700.31 L501.39,700.20 L503.53,700.08 L505.69,699.97 L507.85,699.85 L510.01,699.74 L512.18,699.62 L514.36,699.50 L516.54,699.39 L518.74,699.27 L520.93,699.16 L523.14,699.04 L525.35,698.92 L527.56,698.81 L529.79,698.69 L532.02,698.58 L534.25,698.46 L536.50,698.35 L538.75,698.23 L541.00,698.11 L543.27,698.00 L545.54,697.88 L547.81,697.77 L550.09,697.65 L552.38,697.53 L554.68,697.42 L556.98,697.30 L559.29,697.19 L561.60,697.07 L563.92,696.96 L566.25,696.84 L568.59,696.72 L570.93,696.61 L573.27,696.49 L575.63,696.38 L577.99,696.26 L580.35,696.14 L582.73,696.03 L585.11,695.91 L587.49,695.80 L589.89,695.68 L592.29,695.57 L594.69,695.45 L597.10,695.33 L599.52,695.22 L601.95,695.10 L604.38,694.99 L606.82,694.87 L609.26,694.76 L611.72,694.64 L614.17,694.52 L616.64,694.41 L619.11,694.29 L621.59,694.18 L624.07,694.06 L626.56,693.94 L629.06,693.83 L631.56,693.71 L634.07,693.60 L636.59,693.48 L639.11,693.37 L641.64,693.25 L644.18,693.13 L646.72,693.02 L649.27,692.90 L651.82,692.79 L654.39,692.67 L656.96,692.55 L659.53,692.44 L662.11,692.32 L664.70,692.21 L667.29,692.09" stroke="#ffff00" stroke-width="2.8" />
<path d="M149.00,738.30 L149.00,736.72 L149.01,735.14 L149.03,733.56 L149.05,731.99 L149.08,730.41 L149.12,728.83 L149.16,727.26 L149.21,725.68 L149.26,724.11 L149.33,722.53 L149.39,720.96 L149.47,719.39 L149.55,717.82 L149.64,716.25 L149.73,714.69 L149.83,713.12 L149.94,711.56 L150.05,710.00 L150.18,708.44 L150.30,706.89 L150.44,705.33 L150.58,703.78 L150.72,702.23 L150.88,700.69 L151.03,699.14 L151.20,697.60 L151.37,696.06 L151.55,694.53 L151.74,693.00 L151.93,691.47 L152.13,689.94 L152.33,688.42 L152.55,686.90 L152.76,685.38 L152.99,683.87 L153.22,682.36 L153.46,680.85 L153.70,679.35 L153.95,677.85 L154.21,676.36 L154.47,674.86 L154.74,673.38 L155.02,671.89 L155.30,670.41 L155.59,668.93 L155.89,667.46 L156.19,665.99 L156.50,664.52 L156.82,663.06 L157.14,661.60 L157.47,660.15 L157.80,658.69 L158.14,657.24 L158.49,655.80 L158.85,654.36 L159.21,652.92 L159.58,651.49 L159.95,650.05 L160.33,648.63 L160.72,647.20 L161.11,645.78 L161.51,644.36 L161.92,642.95 L162.33,641.53 L162.75,640.13 L163.18,638.72 L163.61,637.31 L164.05,635.91 L164.50,634.51 L164.95,633.12 L165.41,631.72 L165.88,630.33 L166.35,628.94 L166.83,627.55 L167.31,626.17 L167.80,624.78 L168.30,623.40 L168.81,622.02 L169.32,620.64 L169.84,619.26 L170.36,617.89 L170.89,616.51 L171.43,615.14 L171.97,613.76 L172.52,612.39 L173.08,611.02 L173.64,609.64 L174.21,608.27 L174.79,606.90 L175.37,605.53 L175.96,604.16 L176.56,602.79 L177.16,601.42 L177.77,600.04 L178.38,598.67 L179.00,597.30 L179.63,595.93 L180.27,594.55 L180.91,593.18 L181.56,591.80 L182.21,590.43 L182.87,589.05 L183.54,587.68 L184.21,586.30 L184.89,584.92 L185.58,583.54 L186.27,582.16 L186.97,580.78 L187.68,579.40 L188.39,578.02 L189.11,576.64 L189.84,575.26 L190.57,573.88 L191.31,572.49 L192.06,571.11 L192.81,569.73 L193.57,568.35 L194.33,566.97 L195.10,565.59 L195.88,564.21 L196.67,562.83 L197.46,561.45 L198.25,560.07 L199.06,558.69 L199.87,557.32 L200.69,555.94 L201.51,554.56 L202.34,553.19 L203.18,551.81 L204.02,550.43 L204.87,549.06 L205.73,547.69 L206.59,546.31 L207.46,544.94 L208.33,543.57 L209.22,542.20 L210.10,540.82 L211.00,539.45 L211.90,538.09 L212.81,536.72 L213.72,535.35 L214.65,533.98 L215.57,532.62 L216.51,531.25 L217.45,529.89 L218.40,528.53 L219.35,527.17 L220.31,525.81 L221.28,524.45 L222.25,523.10 L223.23,521.75 L224.22,520.39 L225.21,519.04 L226.21,517.70 L227.22,516.35 L228.23,515.01 L229.25,513.67 L230.27,512.33 L231.30,510.99 L232.34,509.65 L233.39,508.32 L234.44,506.99 L235.50,505.66 L236.56,504.33 L237.63,503.01 L238.71,501.69 L239.80,500.37 L240.89,499.05 L241.98,497.73 L243.09,496.42 L244.20,495.11 L245.31,493.80 L246.44,492.49 L247.57,491.18 L248.70,489.88 L249.85,488.58 L250.99,487.28 L252.15,485.99 L253.31,484.70 L254.48,483.40 L255.66,482.12 L256.84,480.83 L258.03,479.55 L259.22,478.27 L260.42,476.99 L261.63,475.71 L262.85,474.44 L264.07,473.17 L265.29,471.90 L266.53,470.64 L267.77,469.37 L269.01,468.11 L270.27,466.86 L271.53,465.60 L272.79,464.35 L274.07,463.10 L275.35,461.85 L276.63,460.61 L277.93,459.37 L279.22,458.13 L280.53,456.89 L281.84,455.66 L283.16,454.43 L284.49,453.20 L285.82,451.98 L287.15,450.76 L288.50,449.54 L289.85,448.32 L291.21,447.11 L292.57,445.90 L293.94,444.69 L295.32,443.49 L296.70,442.29 L298.09,441.09 L299.49,439.90 L300.89,438.70 L302.30,437.51 L303.72,436.33 L305.14,435.14 L306.57,433.96 L308.01,432.79 L309.45,431.61 L310.90,430.44 L312.35,429.27 L313.81,428.11 L315.28,426.95 L316.76,425.79 L318.24,424.63 L319.73,423.48 L321.22,422.33 L322.72,421.18 L324.23,420.04 L325.74,418.90 L327.26,417.76 L328.79,416.63 L330.32,415.49 L331.86,414.37 L333.41,413.24 L334.96,412.12 L336.52,411.00 L338.09,409.88 L339.66,408.77 L341.24,407.66 L342.83,406.56 L344.42,405.45 L346.02,404.35 L347.62,403.25 L349.23,402.16 L350.85,401.07 L352.48,399.98 L354.11,398.89 L355.74,397.81 L357.39,396.73 L359.04,395.66 L360.70,394.58 L362.36,393.51 L364.03,392.45 L365.71,391.38 L367.39,390.32 L369.08,389.26 L370.77,388.21 L372.48,387.16 L374.19,386.11 L375.90,385.06 L377.62,384.02 L379.35,382.98 L381.09,381.95 L382.83,380.91 L384.58,379.88 L386.33,378.86 L388.09,377.83 L389.86,376.81 L391.64,375.80 L393.42,374.78 L395.20,373.77 L397.00,372.76 L398.80,371.76 L400.61,370.76 L402.42,369.76 L404.24,368.77 L406.07,367.78 L407.90,366.79 L409.74,365.80 L411.58,364.82 L413.44,363.84 L415.30,362.87 L417.16,361.90 L419.03,360.93 L420.91,359.96 L422.80,359.00 L424.69,358.04 L426.59,357.09 L428.49,356.13 L430.40,355.19 L432.32,354.24 L434.24,353.30 L436.17,352.36 L438.11,351.42 L440.05,350.49 L442.00,349.56 L443.96,348.64 L445.92,347.72 L447.89,346.80 L449.87,345.88 L451.85,344.97 L453.84,344.06 L455.84,343.16 L457.84,342.26 L459.85,341.36 L461.86,340.46 L463.89,339.57 L465.91,338.68 L467.95,337.80 L469.99,336.92 L472.04,336.04 L474.09,335.17 L476.15,334.30 L478.22,333.43 L480.29,332.56 L482.37,331.70 L484.46,330.85 L486.55,329.99 L488.65,329.14 L490.76,328.30 L492.87,327.45 L494.99,326.61 L497.12,325.78 L499.25,324.95 L501.39,324.12 L503.53,323.29 L505.69,322.47 L507.85,321.65 L510.01,320.84 L512.18,320.02 L514.36,319.22 L516.54,318.41 L518.74,317.61 L520.93,316.81 L523.14,316.02 L525.35,315.23 L527.56,314.44 L529.79,313.66 L532.02,312.88 L534.25,312.11 L536.50,311.33 L538.75,310.56 L541.00,309.80 L543.27,309.04 L545.54,308.28 L547.81,307.52 L550.09,306.77 L552.38,306.03 L554.68,305.28 L556.98,304.54 L559.29,303.81 L561.60,303.07 L563.92,302.34 L566.25,301.62 L568.59,300.90 L570.93,300.18 L573.27,299.46 L575.63,298.75 L577.99,298.04 L580.35,297.34 L582.73,296.64 L585.11,295.94 L587.49,295.25 L589.89,294.56 L592.29,293.87 L594.69,293.19 L597.10,292.51 L599.52,291.84 L601.95,291.17 L604.38,290.50 L606.82,289.84 L609.26,289.18 L611.72,288.52 L614.17,287.87 L616.64,287.22 L619.11,286.57 L621.59,285.93 L624.07,285.29 L626.56,284.66 L629.06,284.03 L631.56,283.40 L634.07,282.77 L636.59,282.15 L639.11,281.54 L641.64,280.92 L644.18,280.32 L646.72,279.71 L649.27,279.11 L651.82,278.51 L654.39,277.92 L656.96,277.33 L659.53,276.74 L662.11,276.16 L664.70,275.58 L667.29,275.00" stroke="#808000" stroke-width="2.8" />
<path d="M149.00,738.30 L149.00,736.15 L149.01,734.01 L149.02,731.87 L149.03,729.73 L149.05,727.59 L149.08,725.45 L149.10,723.31 L149.13,721.18 L149.17,719.05 L149.21,716.92 L149.25,714.79 L149.30,712.66 L149.36,710.53 L149.41,708.41 L149.47,706.28 L149.54,704.16 L149.61,702.04 L149.68,699.92 L149.76,697.81 L149.84,695.69 L149.93,693.57 L150.02,691.46 L150.11,689.35 L150.21,687.24 L150.31,685.13 L150.42,683.02 L150.53,680.91 L150.65,678.80 L150.77,676.70 L150.89,674.59 L151.02,672.47 L151.15,670.32 L151.29,668.15 L151.43,665.96 L151.57,663.77 L151.72,661.58 L151.88,659.41 L152.03,657.26 L152.20,655.16 L152.36,653.09 L152.53,651.08 L152.71,649.13 L152.88,647.26 L153.07,645.47 L153.25,643.73 L153.44,642.04 L153.64,640.39 L153.84,638.77 L154.04,637.19 L154.25,635.64 L154.46,634.12 L154.68,632.62 L154.90,631.13 L155.13,629.67 L155.35,628.21 L155.59,626.76 L155.82,625.32 L156.07,623.87 L156.31,622.43 L156.56,620.98 L156.82,619.51 L157.07,618.03 L157.34,616.53 L157.60,614.99 L157.88,613.42 L158.15,611.84 L158.43,610.26 L158.71,608.67 L159.00,607.08 L159.29,605.51 L159.59,603.96 L159.89,602.44 L160.19,600.95 L160.50,599.50 L160.82,598.10 L161.13,596.76 L161.45,595.48 L161.78,594.27 L162.11,593.13 L162.44,592.09 L162.78,591.12 L163.12,590.20 L163.47,589.31 L163.82,588.45 L164.18,587.63 L164.54,586.83 L164.90,586.07 L165.27,585.33 L165.64,584.63 L166.01,583.94 L166.40,583.29 L166.78,582.65 L167.17,582.04 L167.56,581.45 L167.96,580.87 L168.36,580.32 L168.76,579.77 L169.17,579.25 L169.59,578.73 L170.01,578.24 L170.43,577.75 L170.85,577.27 L171.29,576.81 L171.72,576.35 L172.16,575.91 L172.60,575.47 L173.05,575.05 L173.50,574.63 L173.96,574.21 L174.42,573.81 L174.88,573.41 L175.35,573.01 L175.82,572.62 L176.30,572.23 L176.78,571.85 L177.27,571.46 L177.76,571.08 L178.25,570.70 L178.75,570.32 L179.25,569.94 L179.75,569.57 L180.27,569.20 L180.78,568.84 L181.30,568.49 L181.82,568.14 L182.35,567.80 L182.88,567.46 L183.42,567.13 L183.96,566.80 L184.50,566.47 L185.05,566.15 L185.60,565.83 L186.16,565.51 L186.72,565.20 L187.28,564.89 L187.85,564.58 L188.43,564.27 L189.00,563.97 L189.59,563.66 L190.17,563.35 L190.76,563.05 L191.36,562.74 L191.96,562.44 L192.56,562.13 L193.16,561.82 L193.78,561.52 L194.39,561.21 L195.01,560.89 L195.64,560.58 L196.26,560.26 L196.90,559.94 L197.53,559.61 L198.17,559.29 L198.82,558.95 L199.47,558.62 L200.12,558.28 L200.78,557.93 L201.44,557.58 L202.11,557.22 L202.78,556.86 L203.45,556.49 L204.13,556.11 L204.81,555.74 L205.50,555.36 L206.19,554.97 L206.88,554.58 L207.58,554.19 L208.29,553.80 L209.00,553.40 L209.71,553.01 L210.42,552.60 L211.14,552.20 L211.87,551.79 L212.60,551.37 L213.33,550.96 L214.07,550.54 L214.81,550.12 L215.56,549.69 L216.31,549.26 L217.06,548.83 L217.82,548.39 L218.58,547.95 L219.35,547.50 L220.12,547.06 L220.89,546.61 L221.67,546.15 L222.46,545.69 L223.24,545.23 L224.04,544.76 L224.83,544.29 L225.63,543.82 L226.44,543.34 L227.25,542.86 L228.06,542.37 L228.88,541.88 L229.70,541.38 L230.52,540.87 L231.35,540.35 L232.19,539.83 L233.02,539.30 L233.87,538.76 L234.71,538.22 L235.56,537.67 L236.42,537.11 L237.28,536.55 L238.14,535.99 L239.01,535.42 L239.88,534.85 L240.76,534.27 L241.64,533.70 L242.52,533.11 L243.41,532.53 L244.30,531.94 L245.20,531.35 L246.10,530.76 L247.01,530.17 L247.91,529.58 L248.83,528.98 L249.75,528.39 L250.67,527.80 L251.60,527.20 L252.53,526.61 L253.46,526.01 L254.40,525.41 L255.34,524.81 L256.29,524.21 L257.24,523.60 L258.20,522.99 L259.16,522.38 L260.12,521.77 L261.09,521.15 L262.06,520.53 L263.04,519.90 L264.02,519.28 L265.01,518.65 L265.99,518.01 L266.99,517.38 L267.99,516.74 L268.99,516.09 L269.99,515.45 L271.00,514.79 L272.02,514.14 L273.04,513.48 L274.06,512.82 L275.09,512.15 L276.12,511.48 L277.16,510.81 L278.19,510.12 L279.24,509.44 L280.29,508.75 L281.34,508.05 L282.40,507.35 L283.46,506.65 L284.52,505.94 L285.59,505.22 L286.66,504.51 L287.74,503.79 L288.82,503.06 L289.91,502.33 L291.00,501.60 L292.09,500.87 L293.19,500.13 L294.30,499.39 L295.40,498.65 L296.51,497.90 L297.63,497.15 L298.75,496.40 L299.87,495.65 L301.00,494.89 L302.13,494.13 L303.27,493.37 L304.41,492.60 L305.56,491.83 L306.70,491.06 L307.86,490.28 L309.01,489.50 L310.18,488.71 L311.34,487.93 L312.51,487.13 L313.69,486.34 L314.87,485.53 L316.05,484.73 L317.23,483.92 L318.43,483.11 L319.62,482.29 L320.82,481.47 L322.02,480.64 L323.23,479.81 L324.44,478.98 L325.66,478.13 L326.88,477.28 L328.11,476.42 L329.33,475.56 L330.57,474.69 L331.80,473.82 L333.05,472.94 L334.29,472.06 L335.54,471.17 L336.80,470.28 L338.05,469.39 L339.32,468.50 L340.58,467.61 L341.85,466.72 L343.13,465.83 L344.41,464.94 L345.69,464.05 L346.98,463.16 L348.27,462.27 L349.57,461.37 L350.87,460.47 L352.17,459.57 L353.48,458.67 L354.79,457.76 L356.11,456.86 L357.43,455.95 L358.76,455.04 L360.09,454.14 L361.42,453.24 L362.76,452.33 L364.10,451.43 L365.45,450.54 L366.80,449.65 L368.15,448.76 L369.51,447.87 L370.88,447.00 L372.24,446.12 L373.61,445.25 L374.99,444.39 L376.37,443.52 L377.75,442.66 L379.14,441.81 L380.54,440.95 L381.93,440.09 L383.33,439.24 L384.74,438.39 L386.15,437.54 L387.56,436.68 L388.98,435.83 L390.40,434.98 L391.83,434.12 L393.26,433.27 L394.69,432.41 L396.13,431.55 L397.58,430.69 L399.02,429.84 L400.47,428.98 L401.93,428.13 L403.39,427.28 L404.85,426.42 L406.32,425.57 L407.80,424.71 L409.27,423.86 L410.75,423.00 L412.24,422.14 L413.73,421.28 L415.22,420.42 L416.72,419.55 L418.22,418.68 L419.73,417.81 L421.24,416.94 L422.75,416.07 L424.27,415.19 L425.79,414.31 L427.32,413.43 L428.85,412.55 L430.39,411.67 L431.93,410.79 L433.47,409.90 L435.02,409.02 L436.57,408.13 L438.13,407.24 L439.69,406.35 L441.25,405.46 L442.82,404.57 L444.40,403.67 L445.97,402.77 L447.56,401.87 L449.14,400.96 L450.73,400.05 L452.33,399.14 L453.92,398.23 L455.53,397.32 L457.13,396.41 L458.75,395.50 L460.36,394.59 L461.98,393.68 L463.60,392.77 L465.23,391.87 L466.86,390.97 L468.50,390.08 L470.14,389.19 L471.79,388.30 L473.43,387.42 L475.09,386.53 L476.75,385.65 L478.41,384.78 L480.07,383.90 L481.74,383.02 L483.42,382.14 L485.10,381.26 L486.78,380.37 L488.46,379.48 L490.16,378.59 L491.85,377.69 L493.55,376.79 L495.25,375.88 L496.96,374.96 L498.67,374.04 L500.39,373.12 L502.11,372.19 L503.83,371.27 L505.56,370.34 L507.30,369.41 L509.03,368.49 L510.77,367.57 L512.52,366.65 L514.27,365.74 L516.02,364.84 L517.78,363.94 L519.54,363.05 L521.31,362.16 L523.08,361.28 L524.86,360.40 L526.64,359.52 L528.42,358.65 L530.21,357.78 L532.00,356.91 L533.80,356.05 L535.60,355.18 L537.40,354.31 L539.21,353.45 L541.02,352.58 L542.84,351.72 L544.66,350.85 L546.48,349.99 L548.31,349.13 L550.15,348.27 L551.99,347.41 L553.83,346.56 L555.67,345.70 L557.53,344.84 L559.38,343.99 L561.24,343.13 L563.10,342.28 L564.97,341.42 L566.84,340.56 L568.72,339.70 L570.60,338.84 L572.48,337.98 L574.37,337.12 L576.26,336.26 L578.16,335.39 L580.06,334.53 L581.97,333.67 L583.88,332.81 L585.79,331.94 L587.71,331.08 L589.63,330.21 L591.56,329.34 L593.49,328.47 L595.42,327.60 L597.36,326.73 L599.30,325.86 L601.25,324.99 L603.20,324.12 L605.16,323.24 L607.12,322.37 L609.08,321.49 L611.05,320.61 L613.02,319.73 L615.00,318.85 L616.98,317.97 L618.96,317.08 L620.95,316.18 L622.95,315.29 L624.94,314.39 L626.95,313.48 L628.95,312.57 L630.96,311.66 L632.98,310.75 L635.00,309.83 L637.02,308.91 L639.05,307.99 L641.08,307.08 L643.11,306.16 L645.15,305.24 L647.20,304.32 L649.24,303.40 L651.30,302.48 L653.35,301.56 L655.41,300.64 L657.48,299.72 L659.55,298.79 L661.62,297.87 L663.70,296.95 L665.78,296.02 L667.87,295.10 L669.96,294.17 L672.05,293.24" stroke="#000" stroke-width="3.7" stroke-dasharray="10.2 18.14" stroke-dashoffset="28.10" stroke-linecap="round"/>
<path d="M149.00,738.30 L149.00,737.78 L149.01,737.26 L149.02,736.74 L149.03,736.23 L149.05,735.71 L149.08,735.20 L149.10,734.68 L149.13,734.17 L149.17,733.65 L149.21,733.14 L149.25,732.63 L149.30,732.12 L149.36,731.61 L149.41,731.10 L149.47,730.60 L149.54,730.09 L149.61,729.58 L149.68,729.08 L149.76,728.57 L149.84,728.07 L149.93,727.57 L150.02,727.07 L150.11,726.57 L150.21,726.06 L150.31,725.55 L150.42,725.04 L150.53,724.52 L150.65,723.99 L150.77,723.46 L150.89,722.93 L151.02,722.40 L151.15,721.87 L151.29,721.34 L151.43,720.81 L151.57,720.29 L151.72,719.77 L151.88,719.25 L152.03,718.75 L152.20,718.25 L152.36,717.77 L152.53,717.29 L152.71,716.83 L152.88,716.38 L153.07,715.94 L153.25,715.52 L153.44,715.12 L153.64,714.74 L153.84,714.37 L154.04,714.01 L154.25,713.66 L154.46,713.31 L154.68,712.96 L154.90,712.62 L155.13,712.29 L155.35,711.96 L155.59,711.63 L155.82,711.31 L156.07,711.00 L156.31,710.69 L156.56,710.39 L156.82,710.09 L157.07,709.80 L157.34,709.51 L157.60,709.23 L157.88,708.95 L158.15,708.68 L158.43,708.42 L158.71,708.17 L159.00,707.92 L159.29,707.67 L159.59,707.43 L159.89,707.20 L160.19,706.98 L160.50,706.76 L160.82,706.55 L161.13,706.34 L161.45,706.15 L161.78,705.95 L162.11,705.76 L162.44,705.57 L162.78,705.39 L163.12,705.20 L163.47,705.02 L163.82,704.84 L164.18,704.66 L164.54,704.49 L164.90,704.32 L165.27,704.15 L165.64,703.98 L166.01,703.82 L166.40,703.66 L166.78,703.50 L167.17,703.34 L167.56,703.19 L167.96,703.04 L168.36,702.89 L168.76,702.75 L169.17,702.60 L169.59,702.46 L170.01,702.32 L170.43,702.19 L170.85,702.05 L171.29,701.92 L171.72,701.80 L172.16,701.67 L172.60,701.55 L173.05,701.43 L173.50,701.31 L173.96,701.19 L174.42,701.08 L174.88,700.97 L175.35,700.86 L175.82,700.76 L176.30,700.66 L176.78,700.56 L177.27,700.46 L177.76,700.36 L178.25,700.27 L178.75,700.18 L179.25,700.10 L179.75,700.01 L180.27,699.93 L180.78,699.85 L181.30,699.77 L181.82,699.70 L182.35,699.62 L182.88,699.55 L183.42,699.48 L183.96,699.41 L184.50,699.34 L185.05,699.28 L185.60,699.21 L186.16,699.15 L186.72,699.08 L187.28,699.02 L187.85,698.95 L188.43,698.89 L189.00,698.83 L189.59,698.76 L190.17,698.70 L190.76,698.64 L191.36,698.57 L191.96,698.51 L192.56,698.44 L193.16,698.38 L193.78,698.31 L194.39,698.24 L195.01,698.17 L195.64,698.10 L196.26,698.03 L196.90,697.96 L197.53,697.89 L198.17,697.81 L198.82,697.74 L199.47,697.67 L200.12,697.60 L200.78,697.53 L201.44,697.46 L202.11,697.39 L202.78,697.32 L203.45,697.25 L204.13,697.18 L204.81,697.11 L205.50,697.03 L206.19,696.96 L206.88,696.88 L207.58,696.81 L208.29,696.73 L209.00,696.65 L209.71,696.57 L210.42,696.49 L211.14,696.41 L211.87,696.32 L212.60,696.24 L213.33,696.15 L214.07,696.06 L214.81,695.96 L215.56,695.87 L216.31,695.77 L217.06,695.67 L217.82,695.57 L218.58,695.47 L219.35,695.36 L220.12,695.26 L220.89,695.15 L221.67,695.04 L222.46,694.93 L223.24,694.82 L224.04,694.71 L224.83,694.60 L225.63,694.49 L226.44,694.38 L227.25,694.26 L228.06,694.15 L228.88,694.04 L229.70,693.93 L230.52,693.82 L231.35,693.71 L232.19,693.60 L233.02,693.49 L233.87,693.38 L234.71,693.27 L235.56,693.17 L236.42,693.06 L237.28,692.95 L238.14,692.84 L239.01,692.73 L239.88,692.62 L240.76,692.51 L241.64,692.40 L242.52,692.28 L243.41,692.17 L244.30,692.05 L245.20,691.93 L246.10,691.81 L247.01,691.68 L247.91,691.55 L248.83,691.42 L249.75,691.29 L250.67,691.15 L251.60,691.01 L252.53,690.86 L253.46,690.71 L254.40,690.55 L255.34,690.39 L256.29,690.22 L257.24,690.06 L258.20,689.89 L259.16,689.72 L260.12,689.54 L261.09,689.37 L262.06,689.20 L263.04,689.02 L264.02,688.85 L265.01,688.68 L265.99,688.51 L266.99,688.34 L267.99,688.17 L268.99,688.00 L269.99,687.83 L271.00,687.67 L272.02,687.50 L273.04,687.33 L274.06,687.16 L275.09,686.99 L276.12,686.82 L277.16,686.65 L278.19,686.48 L279.24,686.31 L280.29,686.14 L281.34,685.97 L282.40,685.81 L283.46,685.64 L284.52,685.47 L285.59,685.31 L286.66,685.14 L287.74,684.98 L288.82,684.82 L289.91,684.66 L291.00,684.49 L292.09,684.33 L293.19,684.17 L294.30,684.01 L295.40,683.85 L296.51,683.69 L297.63,683.52 L298.75,683.36 L299.87,683.19 L301.00,683.02 L302.13,682.85 L303.27,682.68 L304.41,682.50 L305.56,682.33 L306.70,682.15 L307.86,681.97 L309.01,681.80 L310.18,681.62 L311.34,681.44 L312.51,681.25 L313.69,681.07 L314.87,680.89 L316.05,680.70 L317.23,680.52 L318.43,680.33 L319.62,680.15 L320.82,679.96 L322.02,679.77 L323.23,679.58 L324.44,679.39 L325.66,679.20 L326.88,679.01 L328.11,678.82 L329.33,678.63 L330.57,678.44 L331.80,678.25 L333.05,678.06 L334.29,677.86 L335.54,677.67 L336.80,677.48 L338.05,677.28 L339.32,677.09 L340.58,676.90 L341.85,676.70 L343.13,676.51 L344.41,676.31 L345.69,676.12 L346.98,675.92 L348.27,675.73 L349.57,675.53 L350.87,675.34 L352.17,675.15 L353.48,674.95 L354.79,674.76 L356.11,674.56 L357.43,674.37 L358.76,674.18 L360.09,673.98 L361.42,673.79 L362.76,673.60 L364.10,673.40 L365.45,673.21 L366.80,673.02 L368.15,672.83 L369.51,672.64 L370.88,672.45 L372.24,672.26 L373.61,672.07 L374.99,671.88 L376.37,671.70 L377.75,671.51 L379.14,671.32 L380.54,671.14 L381.93,670.95 L383.33,670.76 L384.74,670.58 L386.15,670.39 L387.56,670.21 L388.98,670.02 L390.40,669.84 L391.83,669.65 L393.26,669.47 L394.69,669.28 L396.13,669.10 L397.58,668.91 L399.02,668.73 L400.47,668.54 L401.93,668.36 L403.39,668.18 L404.85,667.99 L406.32,667.81 L407.80,667.63 L409.27,667.44 L410.75,667.26 L412.24,667.07 L413.73,666.89 L415.22,666.71 L416.72,666.52 L418.22,666.34 L419.73,666.16 L421.24,665.97 L422.75,665.79 L424.27,665.61 L425.79,665.42 L427.32,665.24 L428.85,665.06 L430.39,664.87 L431.93,664.69 L433.47,664.51 L435.02,664.32 L436.57,664.14 L438.13,663.95 L439.69,663.77 L441.25,663.59 L442.82,663.40 L444.40,663.22 L445.97,663.03 L447.56,662.85 L449.14,662.67 L450.73,662.48 L452.33,662.30 L453.92,662.11 L455.53,661.93 L457.13,661.74 L458.75,661.56 L460.36,661.37 L461.98,661.19 L463.60,661.00 L465.23,660.81 L466.86,660.63 L468.50,660.44 L470.14,660.26 L471.79,660.07 L473.43,659.89 L475.09,659.70 L476.75,659.52 L478.41,659.34 L480.07,659.15 L481.74,658.97 L483.42,658.79 L485.10,658.60 L486.78,658.42 L488.46,658.24 L490.16,658.05 L491.85,657.87 L493.55,657.68 L495.25,657.50 L496.96,657.32 L498.67,657.13 L500.39,656.95 L502.11,656.76 L503.83,656.58 L505.56,656.39 L507.30,656.20 L509.03,656.02 L510.77,655.83 L512.52,655.64 L514.27,655.45 L516.02,655.26 L517.78,655.07 L519.54,654.88 L521.31,654.69 L523.08,654.50 L524.86,654.30 L526.64,654.11 L528.42,653.91 L530.21,653.72 L532.00,653.52 L533.80,653.32 L535.60,653.12 L537.40,652.92 L539.21,652.72 L541.02,652.52 L542.84,652.31 L544.66,652.11 L546.48,651.90 L548.31,651.70 L550.15,651.49 L551.99,651.28 L553.83,651.08 L555.67,650.87 L557.53,650.66 L559.38,650.45 L561.24,650.24 L563.10,650.02 L564.97,649.81 L566.84,649.60 L568.72,649.38 L570.60,649.17 L572.48,648.96 L574.37,648.74 L576.26,648.53 L578.16,648.31 L580.06,648.09 L581.97,647.88 L583.88,647.66 L585.79,647.44 L587.71,647.22 L589.63,647.01 L591.56,646.79 L593.49,646.57 L595.42,646.35 L597.36,646.13 L599.30,645.91 L601.25,645.69 L603.20,645.47 L605.16,645.25 L607.12,645.03 L609.08,644.81 L611.05,644.59 L613.02,644.37 L615.00,644.15 L616.98,643.93 L618.96,643.71 L620.95,643.49 L622.95,643.27 L624.94,643.05 L626.95,642.83 L628.95,642.61 L630.96,642.39 L632.98,642.17 L635.00,641.95 L637.02,641.73 L639.05,641.51 L641.08,641.29 L643.11,641.07 L645.15,640.86 L647.20,640.64 L649.24,640.42 L651.30,640.20 L653.35,639.99 L655.41,639.77 L657.48,639.56 L659.55,639.34 L661.62,639.13 L663.70,638.91 L665.78,638.70 L667.87,638.49 L669.96,638.27 L672.05,638.06" stroke="#3a6ea5" stroke-width="3.6" stroke-dasharray="13.6 10.50 1.2 10.50" stroke-dashoffset="34.18" stroke-linecap="round"/>
<path d="M149.00,738.30 L149.00,737.55 L149.00,736.81 L149.00,736.06 L149.00,735.32 L149.01,734.57 L149.01,733.82 L149.01,733.08 L149.02,732.33 L149.02,731.59 L149.02,730.84 L149.03,730.10 L149.04,729.35 L149.04,728.61 L149.05,727.87 L149.06,727.12 L149.06,726.38 L149.07,725.63 L149.08,724.89 L149.09,724.15 L149.10,723.40 L149.11,722.66 L149.12,721.92 L149.13,721.17 L149.14,720.43 L149.16,719.69 L149.17,718.95 L149.18,718.20 L149.20,717.46 L149.21,716.72 L149.22,715.98 L149.24,715.24 L149.26,714.49 L149.27,713.75 L149.29,713.01 L149.31,712.27 L149.32,711.53 L149.34,710.79 L149.36,710.05 L149.38,709.31 L149.40,708.57 L149.42,707.83 L149.44,707.09 L149.46,706.35 L149.48,705.61 L149.51,704.87 L149.53,704.13 L149.55,703.39 L149.58,702.65 L149.60,701.91 L149.62,701.17 L149.65,700.43 L149.68,699.70 L149.70,698.96 L149.73,698.22 L149.76,697.48 L149.78,696.74 L149.81,696.01 L149.84,695.27 L149.87,694.53 L149.90,693.79 L149.93,693.06 L149.96,692.32 L149.99,691.58 L150.02,690.85 L150.05,690.11 L150.09,689.37 L150.12,688.64 L150.15,687.90 L150.19,687.17 L150.22,686.43 L150.26,685.70 L150.29,684.96 L150.33,684.23 L150.37,683.49 L150.40,682.76 L150.44,682.02 L150.48,681.29 L150.52,680.55 L150.56,679.82 L150.60,679.08 L150.64,678.35 L150.68,677.62 L150.72,676.88 L150.76,676.15 L150.80,675.42 L150.85,674.68 L150.89,673.95 L150.93,673.22 L150.98,672.48 L151.02,671.75 L151.07,671.02 L151.11,670.29 L151.16,669.56 L151.21,668.82 L151.25,668.09 L151.30,667.36 L151.35,666.63 L151.40,665.90 L151.45,665.17 L151.50,664.44 L151.55,663.70 L151.60,662.97 L151.65,662.24 L151.70,661.51 L151.75,660.78 L151.81,660.05 L151.86,659.32 L151.91,658.59 L151.97,657.86 L152.02,657.13 L152.08,656.40 L152.13,655.68 L152.19,654.95 L152.25,654.22 L152.30,653.49 L152.36,652.76 L152.42,652.03 L152.48,651.30 L152.54,650.58 L152.60,649.85 L152.66,649.12 L152.72,648.39 L152.78,647.67 L152.84,646.94 L152.90,646.21 L152.96,645.48 L153.03,644.76 L153.09,644.03 L153.16,643.30 L153.22,642.58 L153.29,641.85 L153.35,641.12 L153.42,640.40 L153.48,639.67 L153.55,638.95 L153.62,638.22 L153.69,637.50 L153.76,636.77 L153.82,636.05 L153.89,635.32 L153.96,634.60 L154.03,633.87 L154.11,633.15 L154.18,632.42 L154.25,631.70 L154.32,630.97 L154.40,630.25 L154.47,629.53 L154.54,628.80 L154.62,628.08 L154.69,627.36 L154.77,626.63 L154.85,625.91 L154.92,625.19 L155.00,624.46 L155.08,623.74 L155.15,623.02 L155.23,622.30 L155.31,621.57 L155.39,620.85 L155.47,620.13 L155.55,619.41 L155.63,618.69 L155.72,617.96 L155.80,617.24 L155.88,616.52 L155.96,615.80 L156.05,615.08 L156.13,614.36 L156.22,613.64 L156.30,612.92 L156.39,612.20 L156.47,611.48 L156.56,610.76 L156.65,610.04 L156.73,609.32 L156.82,608.60 L156.91,607.88 L157.00,607.16 L157.09,606.44 L157.18,605.72 L157.27,605.00 L157.36,604.28 L157.45,603.56 L157.55,602.84 L157.64,602.12 L157.73,601.40 L157.83,600.69 L157.92,599.97 L158.01,599.25 L158.11,598.53 L158.20,597.81 L158.30,597.09 L158.40,596.38 L158.49,595.66 L158.59,594.94 L158.69,594.22 L158.79,593.51 L158.89,592.79 L158.99,592.07 L159.09,591.36 L159.19,590.64 L159.29,589.92 L159.39,589.21 L159.49,588.49 L159.60,587.77 L159.70,587.06 L159.80,586.34 L159.91,585.62 L160.01,584.91 L160.12,584.19 L160.22,583.48 L160.33,582.76 L160.44,582.04 L160.54,581.33 L160.65,580.61 L160.76,579.90 L160.87,579.18 L160.98,578.47 L161.09,577.75 L161.20,577.04 L161.31,576.32 L161.42,575.61 L161.53,574.89 L161.64,574.18 L161.75,573.46 L161.87,572.75 L161.98,572.04 L162.09,571.32 L162.21,570.61 L162.32,569.89 L162.44,569.18 L162.56,568.46 L162.67,567.75 L162.79,567.04 L162.91,566.32 L163.03,565.61 L163.14,564.90 L163.26,564.18 L163.38,563.47 L163.50,562.76 L163.62,562.04 L163.74,561.33 L163.87,560.62 L163.99,559.90 L164.11,559.19 L164.23,558.48 L164.36,557.76 L164.48,557.05 L164.61,556.34 L164.73,555.62 L164.86,554.91 L164.98,554.20 L165.11,553.49 L165.24,552.77 L165.36,552.06 L165.49,551.35 L165.62,550.63 L165.75,549.92 L165.88,549.21 L166.01,548.50 L166.14,547.78 L166.27,547.07 L166.40,546.36 L166.53,545.65 L166.67,544.93 L166.80,544.22 L166.93,543.51 L167.07,542.80 L167.20,542.08 L167.34,541.37 L167.47,540.66 L167.61,539.95 L167.75,539.24 L167.88,538.52 L168.02,537.81 L168.16,537.10 L168.30,536.39 L168.44,535.67 L168.58,534.96 L168.72,534.25 L168.86,533.54 L169.00,532.82 L169.14,532.11 L169.28,531.40 L169.42,530.69 L169.57,529.97 L169.71,529.26 L169.85,528.55 L170.00,527.83 L170.14,527.12 L170.29,526.41 L170.44,525.70 L170.58,524.98 L170.73,524.27 L170.88,523.56 L171.03,522.84 L171.17,522.13 L171.32,521.42 L171.47,520.70 L171.62,519.99 L171.77,519.28 L171.92,518.56 L172.08,517.85 L172.23,517.14 L172.38,516.42 L172.53,515.71 L172.69,514.99 L172.84,514.28 L173.00,513.57 L173.15,512.85 L173.31,512.14 L173.46,511.42 L173.62,510.71 L173.78,509.99 L173.93,509.28 L174.09,508.56 L174.25,507.85 L174.41,507.13 L174.57,506.42 L174.73,505.70 L174.89,504.99 L175.05,504.27 L175.21,503.56 L175.37,502.84 L175.54,502.12 L175.70,501.41 L175.86,500.69 L176.03,499.97 L176.19,499.26 L176.36,498.54 L176.52,497.82 L176.69,497.10 L176.86,496.39 L177.02,495.67 L177.19,494.95 L177.36,494.23 L177.53,493.51 L177.70,492.80 L177.86,492.08 L178.03,491.36 L178.21,490.64 L178.38,489.92 L178.55,489.20 L178.72,488.48 L178.89,487.76 L179.07,487.04 L179.24,486.32 L179.41,485.60 L179.59,484.87 L179.76,484.15 L179.94,483.43 L180.11,482.71 L180.29,481.99 L180.47,481.26 L180.65,480.54 L180.82,479.82 L181.00,479.09 L181.18,478.37 L181.36,477.64 L181.54,476.92 L181.72,476.20 L181.90,475.47 L182.08,474.74 L182.27,474.02 L182.45,473.29 L182.63,472.57 L182.81,471.84 L183.00,471.11 L183.18,470.38 L183.37,469.66 L183.55,468.93 L183.74,468.20 L183.93,467.47 L184.11,466.74 L184.30,466.01 L184.49,465.28 L184.68,464.55 L184.87,463.82 L185.06,463.09 L185.25,462.35 L185.44,461.62 L185.63,460.89 L185.82,460.15 L186.01,459.42 L186.20,458.69 L186.40,457.95 L186.59,457.22 L186.78,456.48 L186.98,455.74 L187.17,455.01 L187.37,454.27 L187.57,453.53 L187.76,452.79 L187.96,452.06 L188.16,451.32 L188.35,450.58 L188.55,449.84 L188.75,449.09" stroke="#008000" stroke-width="4.6" stroke-dasharray="0.01 7.85" stroke-dashoffset="0.38" stroke-linecap="round"/>
<path d="M149.0 735.0l3.3 3.3l-3.3 3.3l-3.3 -3.3zM151.9 698.2l3.3 3.3l-3.3 3.3l-3.3 -3.3zM154.8 683.0l3.3 3.3l-3.3 3.3l-3.3 -3.3zM157.7 671.3l3.3 3.3l-3.3 3.3l-3.3 -3.3zM160.6 661.5l3.3 3.3l-3.3 3.3l-3.3 -3.3zM163.6 652.8l3.3 3.3l-3.3 3.3l-3.3 -3.3zM166.5 644.9l3.3 3.3l-3.3 3.3l-3.3 -3.3zM169.4 637.7l3.3 3.3l-3.3 3.3l-3.3 -3.3zM172.3 631.0l3.3 3.3l-3.3 3.3l-3.3 -3.3zM175.2 624.7l3.3 3.3l-3.3 3.3l-3.3 -3.3zM178.1 618.7l3.3 3.3l-3.3 3.3l-3.3 -3.3zM181.0 613.1l3.3 3.3l-3.3 3.3l-3.3 -3.3zM183.9 607.6l3.3 3.3l-3.3 3.3l-3.3 -3.3zM186.8 602.4l3.3 3.3l-3.3 3.3l-3.3 -3.3zM189.8 597.4l3.3 3.3l-3.3 3.3l-3.3 -3.3zM192.7 592.6l3.3 3.3l-3.3 3.3l-3.3 -3.3zM195.6 587.9l3.3 3.3l-3.3 3.3l-3.3 -3.3zM198.5 583.4l3.3 3.3l-3.3 3.3l-3.3 -3.3zM201.4 579.0l3.3 3.3l-3.3 3.3l-3.3 -3.3zM204.3 574.7l3.3 3.3l-3.3 3.3l-3.3 -3.3zM207.2 570.6l3.3 3.3l-3.3 3.3l-3.3 -3.3zM210.1 566.5l3.3 3.3l-3.3 3.3l-3.3 -3.3zM213.0 562.5l3.3 3.3l-3.3 3.3l-3.3 -3.3zM216.0 558.7l3.3 3.3l-3.3 3.3l-3.3 -3.3zM218.9 554.9l3.3 3.3l-3.3 3.3l-3.3 -3.3zM221.8 551.2l3.3 3.3l-3.3 3.3l-3.3 -3.3zM224.7 547.5l3.3 3.3l-3.3 3.3l-3.3 -3.3zM227.6 543.9l3.3 3.3l-3.3 3.3l-3.3 -3.3zM230.5 540.4l3.3 3.3l-3.3 3.3l-3.3 -3.3zM233.4 537.0l3.3 3.3l-3.3 3.3l-3.3 -3.3zM236.3 533.6l3.3 3.3l-3.3 3.3l-3.3 -3.3zM239.2 530.3l3.3 3.3l-3.3 3.3l-3.3 -3.3zM242.2 527.0l3.3 3.3l-3.3 3.3l-3.3 -3.3zM245.1 523.8l3.3 3.3l-3.3 3.3l-3.3 -3.3zM248.0 520.6l3.3 3.3l-3.3 3.3l-3.3 -3.3zM250.9 517.5l3.3 3.3l-3.3 3.3l-3.3 -3.3zM253.8 514.4l3.3 3.3l-3.3 3.3l-3.3 -3.3zM256.7 511.4l3.3 3.3l-3.3 3.3l-3.3 -3.3zM259.6 508.3l3.3 3.3l-3.3 3.3l-3.3 -3.3zM262.5 505.4l3.3 3.3l-3.3 3.3l-3.3 -3.3zM265.4 502.5l3.3 3.3l-3.3 3.3l-3.3 -3.3zM268.4 499.6l3.3 3.3l-3.3 3.3l-3.3 -3.3zM271.3 496.7l3.3 3.3l-3.3 3.3l-3.3 -3.3zM274.2 493.9l3.3 3.3l-3.3 3.3l-3.3 -3.3zM277.1 491.1l3.3 3.3l-3.3 3.3l-3.3 -3.3zM280.0 488.4l3.3 3.3l-3.3 3.3l-3.3 -3.3zM282.9 485.6l3.3 3.3l-3.3 3.3l-3.3 -3.3zM285.8 482.9l3.3 3.3l-3.3 3.3l-3.3 -3.3zM288.7 480.3l3.3 3.3l-3.3 3.3l-3.3 -3.3zM291.6 477.6l3.3 3.3l-3.3 3.3l-3.3 -3.3zM294.6 475.0l3.3 3.3l-3.3 3.3l-3.3 -3.3zM297.5 472.4l3.3 3.3l-3.3 3.3l-3.3 -3.3zM300.4 469.9l3.3 3.3l-3.3 3.3l-3.3 -3.3zM303.3 467.3l3.3 3.3l-3.3 3.3l-3.3 -3.3zM306.2 464.8l3.3 3.3l-3.3 3.3l-3.3 -3.3zM309.1 462.3l3.3 3.3l-3.3 3.3l-3.3 -3.3zM312.0 459.9l3.3 3.3l-3.3 3.3l-3.3 -3.3zM314.9 457.4l3.3 3.3l-3.3 3.3l-3.3 -3.3zM317.8 455.0l3.3 3.3l-3.3 3.3l-3.3 -3.3zM320.7 452.6l3.3 3.3l-3.3 3.3l-3.3 -3.3zM323.7 450.2l3.3 3.3l-3.3 3.3l-3.3 -3.3zM326.6 447.8l3.3 3.3l-3.3 3.3l-3.3 -3.3zM329.5 445.5l3.3 3.3l-3.3 3.3l-3.3 -3.3zM332.4 443.2l3.3 3.3l-3.3 3.3l-3.3 -3.3zM335.3 440.9l3.3 3.3l-3.3 3.3l-3.3 -3.3zM338.2 438.6l3.3 3.3l-3.3 3.3l-3.3 -3.3zM341.1 436.3l3.3 3.3l-3.3 3.3l-3.3 -3.3zM344.0 434.0l3.3 3.3l-3.3 3.3l-3.3 -3.3zM346.9 431.8l3.3 3.3l-3.3 3.3l-3.3 -3.3zM349.9 429.6l3.3 3.3l-3.3 3.3l-3.3 -3.3zM352.8 427.4l3.3 3.3l-3.3 3.3l-3.3 -3.3zM355.7 425.2l3.3 3.3l-3.3 3.3l-3.3 -3.3zM358.6 423.0l3.3 3.3l-3.3 3.3l-3.3 -3.3zM361.5 420.9l3.3 3.3l-3.3 3.3l-3.3 -3.3zM364.4 418.7l3.3 3.3l-3.3 3.3l-3.3 -3.3zM367.3 416.6l3.3 3.3l-3.3 3.3l-3.3 -3.3zM370.2 414.5l3.3 3.3l-3.3 3.3l-3.3 -3.3zM373.1 412.4l3.3 3.3l-3.3 3.3l-3.3 -3.3zM376.1 410.3l3.3 3.3l-3.3 3.3l-3.3 -3.3zM379.0 408.2l3.3 3.3l-3.3 3.3l-3.3 -3.3zM381.9 406.1l3.3 3.3l-3.3 3.3l-3.3 -3.3zM384.8 404.1l3.3 3.3l-3.3 3.3l-3.3 -3.3zM387.7 402.1l3.3 3.3l-3.3 3.3l-3.3 -3.3zM390.6 400.0l3.3 3.3l-3.3 3.3l-3.3 -3.3zM393.5 398.0l3.3 3.3l-3.3 3.3l-3.3 -3.3zM396.4 396.0l3.3 3.3l-3.3 3.3l-3.3 -3.3zM399.3 394.0l3.3 3.3l-3.3 3.3l-3.3 -3.3zM402.3 392.1l3.3 3.3l-3.3 3.3l-3.3 -3.3zM405.2 390.1l3.3 3.3l-3.3 3.3l-3.3 -3.3zM408.1 388.1l3.3 3.3l-3.3 3.3l-3.3 -3.3zM411.0 386.2l3.3 3.3l-3.3 3.3l-3.3 -3.3zM413.9 384.3l3.3 3.3l-3.3 3.3l-3.3 -3.3zM416.8 382.3l3.3 3.3l-3.3 3.3l-3.3 -3.3zM419.7 380.4l3.3 3.3l-3.3 3.3l-3.3 -3.3zM422.6 378.5l3.3 3.3l-3.3 3.3l-3.3 -3.3zM425.5 376.6l3.3 3.3l-3.3 3.3l-3.3 -3.3zM428.5 374.8l3.3 3.3l-3.3 3.3l-3.3 -3.3zM431.4 372.9l3.3 3.3l-3.3 3.3l-3.3 -3.3zM434.3 371.0l3.3 3.3l-3.3 3.3l-3.3 -3.3zM437.2 369.2l3.3 3.3l-3.3 3.3l-3.3 -3.3zM440.1 367.3l3.3 3.3l-3.3 3.3l-3.3 -3.3zM443.0 365.5l3.3 3.3l-3.3 3.3l-3.3 -3.3zM445.9 363.7l3.3 3.3l-3.3 3.3l-3.3 -3.3zM448.8 361.8l3.3 3.3l-3.3 3.3l-3.3 -3.3zM451.7 360.0l3.3 3.3l-3.3 3.3l-3.3 -3.3zM454.7 358.2l3.3 3.3l-3.3 3.3l-3.3 -3.3zM457.6 356.5l3.3 3.3l-3.3 3.3l-3.3 -3.3zM460.5 354.7l3.3 3.3l-3.3 3.3l-3.3 -3.3zM463.4 352.9l3.3 3.3l-3.3 3.3l-3.3 -3.3zM466.3 351.1l3.3 3.3l-3.3 3.3l-3.3 -3.3zM469.2 349.4l3.3 3.3l-3.3 3.3l-3.3 -3.3zM472.1 347.6l3.3 3.3l-3.3 3.3l-3.3 -3.3zM475.0 345.9l3.3 3.3l-3.3 3.3l-3.3 -3.3zM477.9 344.2l3.3 3.3l-3.3 3.3l-3.3 -3.3zM480.9 342.4l3.3 3.3l-3.3 3.3l-3.3 -3.3zM483.8 340.7l3.3 3.3l-3.3 3.3l-3.3 -3.3zM486.7 339.0l3.3 3.3l-3.3 3.3l-3.3 -3.3zM489.6 337.3l3.3 3.3l-3.3 3.3l-3.3 -3.3zM492.5 335.6l3.3 3.3l-3.3 3.3l-3.3 -3.3zM495.4 333.9l3.3 3.3l-3.3 3.3l-3.3 -3.3zM498.3 332.2l3.3 3.3l-3.3 3.3l-3.3 -3.3zM501.2 330.6l3.3 3.3l-3.3 3.3l-3.3 -3.3zM504.1 328.9l3.3 3.3l-3.3 3.3l-3.3 -3.3zM507.1 327.2l3.3 3.3l-3.3 3.3l-3.3 -3.3zM510.0 325.6l3.3 3.3l-3.3 3.3l-3.3 -3.3zM512.9 323.9l3.3 3.3l-3.3 3.3l-3.3 -3.3zM515.8 322.3l3.3 3.3l-3.3 3.3l-3.3 -3.3zM518.7 320.7l3.3 3.3l-3.3 3.3l-3.3 -3.3zM521.6 319.0l3.3 3.3l-3.3 3.3l-3.3 -3.3zM524.5 317.4l3.3 3.3l-3.3 3.3l-3.3 -3.3zM527.4 315.8l3.3 3.3l-3.3 3.3l-3.3 -3.3zM530.3 314.2l3.3 3.3l-3.3 3.3l-3.3 -3.3zM533.3 312.6l3.3 3.3l-3.3 3.3l-3.3 -3.3zM536.2 311.0l3.3 3.3l-3.3 3.3l-3.3 -3.3zM539.1 309.4l3.3 3.3l-3.3 3.3l-3.3 -3.3zM542.0 307.8l3.3 3.3l-3.3 3.3l-3.3 -3.3zM544.9 306.2l3.3 3.3l-3.3 3.3l-3.3 -3.3zM547.8 304.6l3.3 3.3l-3.3 3.3l-3.3 -3.3zM550.7 303.1l3.3 3.3l-3.3 3.3l-3.3 -3.3zM553.6 301.5l3.3 3.3l-3.3 3.3l-3.3 -3.3zM556.5 300.0l3.3 3.3l-3.3 3.3l-3.3 -3.3zM559.5 298.4l3.3 3.3l-3.3 3.3l-3.3 -3.3zM562.4 296.9l3.3 3.3l-3.3 3.3l-3.3 -3.3zM565.3 295.3l3.3 3.3l-3.3 3.3l-3.3 -3.3zM568.2 293.8l3.3 3.3l-3.3 3.3l-3.3 -3.3zM571.1 292.3l3.3 3.3l-3.3 3.3l-3.3 -3.3zM574.0 290.7l3.3 3.3l-3.3 3.3l-3.3 -3.3zM576.9 289.2l3.3 3.3l-3.3 3.3l-3.3 -3.3zM579.8 287.7l3.3 3.3l-3.3 3.3l-3.3 -3.3zM582.7 286.2l3.3 3.3l-3.3 3.3l-3.3 -3.3zM585.7 284.7l3.3 3.3l-3.3 3.3l-3.3 -3.3z" fill="#000" stroke="none"/>
<path d="M146.1 735.4l5.8 5.8m0 -5.8l-5.8 5.8M149.0 698.6l5.8 5.8m0 -5.8l-5.8 5.8M151.9 683.4l5.8 5.8m0 -5.8l-5.8 5.8M154.8 671.7l5.8 5.8m0 -5.8l-5.8 5.8M157.7 661.9l5.8 5.8m0 -5.8l-5.8 5.8M160.7 653.2l5.8 5.8m0 -5.8l-5.8 5.8M163.6 645.3l5.8 5.8m0 -5.8l-5.8 5.8M166.5 638.1l5.8 5.8m0 -5.8l-5.8 5.8M169.4 631.4l5.8 5.8m0 -5.8l-5.8 5.8M172.3 625.1l5.8 5.8m0 -5.8l-5.8 5.8M175.2 619.1l5.8 5.8m0 -5.8l-5.8 5.8M178.1 613.5l5.8 5.8m0 -5.8l-5.8 5.8M181.0 608.0l5.8 5.8m0 -5.8l-5.8 5.8M183.9 602.8l5.8 5.8m0 -5.8l-5.8 5.8M186.9 597.8l5.8 5.8m0 -5.8l-5.8 5.8M189.8 593.0l5.8 5.8m0 -5.8l-5.8 5.8M192.7 588.3l5.8 5.8m0 -5.8l-5.8 5.8M195.6 583.8l5.8 5.8m0 -5.8l-5.8 5.8M198.5 579.4l5.8 5.8m0 -5.8l-5.8 5.8M201.4 575.1l5.8 5.8m0 -5.8l-5.8 5.8M204.3 571.0l5.8 5.8m0 -5.8l-5.8 5.8M207.2 566.9l5.8 5.8m0 -5.8l-5.8 5.8M210.1 562.9l5.8 5.8m0 -5.8l-5.8 5.8M213.1 559.1l5.8 5.8m0 -5.8l-5.8 5.8M216.0 555.3l5.8 5.8m0 -5.8l-5.8 5.8M218.9 551.6l5.8 5.8m0 -5.8l-5.8 5.8M221.8 547.9l5.8 5.8m0 -5.8l-5.8 5.8M224.7 544.3l5.8 5.8m0 -5.8l-5.8 5.8M227.6 540.8l5.8 5.8m0 -5.8l-5.8 5.8M230.5 537.4l5.8 5.8m0 -5.8l-5.8 5.8M233.4 534.0l5.8 5.8m0 -5.8l-5.8 5.8M236.3 530.7l5.8 5.8m0 -5.8l-5.8 5.8M239.3 527.4l5.8 5.8m0 -5.8l-5.8 5.8M242.2 524.2l5.8 5.8m0 -5.8l-5.8 5.8M245.1 521.0l5.8 5.8m0 -5.8l-5.8 5.8M248.0 517.9l5.8 5.8m0 -5.8l-5.8 5.8M250.9 514.8l5.8 5.8m0 -5.8l-5.8 5.8M253.8 511.8l5.8 5.8m0 -5.8l-5.8 5.8M256.7 508.7l5.8 5.8m0 -5.8l-5.8 5.8M259.6 505.8l5.8 5.8m0 -5.8l-5.8 5.8M262.5 502.9l5.8 5.8m0 -5.8l-5.8 5.8M265.5 500.0l5.8 5.8m0 -5.8l-5.8 5.8M268.4 497.1l5.8 5.8m0 -5.8l-5.8 5.8M271.3 494.3l5.8 5.8m0 -5.8l-5.8 5.8M274.2 491.5l5.8 5.8m0 -5.8l-5.8 5.8M277.1 488.8l5.8 5.8m0 -5.8l-5.8 5.8M280.0 486.0l5.8 5.8m0 -5.8l-5.8 5.8M282.9 483.3l5.8 5.8m0 -5.8l-5.8 5.8M285.8 480.7l5.8 5.8m0 -5.8l-5.8 5.8M288.7 478.0l5.8 5.8m0 -5.8l-5.8 5.8M291.7 475.4l5.8 5.8m0 -5.8l-5.8 5.8M294.6 472.8l5.8 5.8m0 -5.8l-5.8 5.8M297.5 470.3l5.8 5.8m0 -5.8l-5.8 5.8M300.4 467.7l5.8 5.8m0 -5.8l-5.8 5.8M303.3 465.2l5.8 5.8m0 -5.8l-5.8 5.8M306.2 462.7l5.8 5.8m0 -5.8l-5.8 5.8M309.1 460.3l5.8 5.8m0 -5.8l-5.8 5.8M312.0 457.8l5.8 5.8m0 -5.8l-5.8 5.8M314.9 455.4l5.8 5.8m0 -5.8l-5.8 5.8M317.8 453.0l5.8 5.8m0 -5.8l-5.8 5.8M320.8 450.6l5.8 5.8m0 -5.8l-5.8 5.8M323.7 448.2l5.8 5.8m0 -5.8l-5.8 5.8M326.6 445.9l5.8 5.8m0 -5.8l-5.8 5.8M329.5 443.6l5.8 5.8m0 -5.8l-5.8 5.8M332.4 441.3l5.8 5.8m0 -5.8l-5.8 5.8M335.3 439.0l5.8 5.8m0 -5.8l-5.8 5.8M338.2 436.7l5.8 5.8m0 -5.8l-5.8 5.8M341.1 434.4l5.8 5.8m0 -5.8l-5.8 5.8M344.0 432.2l5.8 5.8m0 -5.8l-5.8 5.8M347.0 430.0l5.8 5.8m0 -5.8l-5.8 5.8M349.9 427.8l5.8 5.8m0 -5.8l-5.8 5.8M352.8 425.6l5.8 5.8m0 -5.8l-5.8 5.8M355.7 423.4l5.8 5.8m0 -5.8l-5.8 5.8M358.6 421.3l5.8 5.8m0 -5.8l-5.8 5.8M361.5 419.1l5.8 5.8m0 -5.8l-5.8 5.8M364.4 417.0l5.8 5.8m0 -5.8l-5.8 5.8M367.3 414.9l5.8 5.8m0 -5.8l-5.8 5.8M370.2 412.8l5.8 5.8m0 -5.8l-5.8 5.8M373.2 410.7l5.8 5.8m0 -5.8l-5.8 5.8M376.1 408.6l5.8 5.8m0 -5.8l-5.8 5.8M379.0 406.5l5.8 5.8m0 -5.8l-5.8 5.8M381.9 404.5l5.8 5.8m0 -5.8l-5.8 5.8M384.8 402.5l5.8 5.8m0 -5.8l-5.8 5.8M387.7 400.4l5.8 5.8m0 -5.8l-5.8 5.8M390.6 398.4l5.8 5.8m0 -5.8l-5.8 5.8M393.5 396.4l5.8 5.8m0 -5.8l-5.8 5.8M396.4 394.4l5.8 5.8m0 -5.8l-5.8 5.8M399.4 392.5l5.8 5.8m0 -5.8l-5.8 5.8M402.3 390.5l5.8 5.8m0 -5.8l-5.8 5.8M405.2 388.5l5.8 5.8m0 -5.8l-5.8 5.8M408.1 386.6l5.8 5.8m0 -5.8l-5.8 5.8M411.0 384.7l5.8 5.8m0 -5.8l-5.8 5.8M413.9 382.7l5.8 5.8m0 -5.8l-5.8 5.8M416.8 380.8l5.8 5.8m0 -5.8l-5.8 5.8M419.7 378.9l5.8 5.8m0 -5.8l-5.8 5.8M422.6 377.0l5.8 5.8m0 -5.8l-5.8 5.8M425.6 375.2l5.8 5.8m0 -5.8l-5.8 5.8M428.5 373.3l5.8 5.8m0 -5.8l-5.8 5.8M431.4 371.4l5.8 5.8m0 -5.8l-5.8 5.8M434.3 369.6l5.8 5.8m0 -5.8l-5.8 5.8M437.2 367.7l5.8 5.8m0 -5.8l-5.8 5.8M440.1 365.9l5.8 5.8m0 -5.8l-5.8 5.8M443.0 364.1l5.8 5.8m0 -5.8l-5.8 5.8M445.9 362.2l5.8 5.8m0 -5.8l-5.8 5.8M448.8 360.4l5.8 5.8m0 -5.8l-5.8 5.8M451.8 358.6l5.8 5.8m0 -5.8l-5.8 5.8M454.7 356.9l5.8 5.8m0 -5.8l-5.8 5.8M457.6 355.1l5.8 5.8m0 -5.8l-5.8 5.8M460.5 353.3l5.8 5.8m0 -5.8l-5.8 5.8M463.4 351.5l5.8 5.8m0 -5.8l-5.8 5.8M466.3 349.8l5.8 5.8m0 -5.8l-5.8 5.8M469.2 348.0l5.8 5.8m0 -5.8l-5.8 5.8M472.1 346.3l5.8 5.8m0 -5.8l-5.8 5.8M475.0 344.6l5.8 5.8m0 -5.8l-5.8 5.8M478.0 342.8l5.8 5.8m0 -5.8l-5.8 5.8M480.9 341.1l5.8 5.8m0 -5.8l-5.8 5.8M483.8 339.4l5.8 5.8m0 -5.8l-5.8 5.8M486.7 337.7l5.8 5.8m0 -5.8l-5.8 5.8M489.6 336.0l5.8 5.8m0 -5.8l-5.8 5.8M492.5 334.3l5.8 5.8m0 -5.8l-5.8 5.8M495.4 332.6l5.8 5.8m0 -5.8l-5.8 5.8M498.3 331.0l5.8 5.8m0 -5.8l-5.8 5.8M501.2 329.3l5.8 5.8m0 -5.8l-5.8 5.8M504.2 327.6l5.8 5.8m0 -5.8l-5.8 5.8M507.1 326.0l5.8 5.8m0 -5.8l-5.8 5.8M510.0 324.3l5.8 5.8m0 -5.8l-5.8 5.8M512.9 322.7l5.8 5.8m0 -5.8l-5.8 5.8M515.8 321.1l5.8 5.8m0 -5.8l-5.8 5.8M518.7 319.4l5.8 5.8m0 -5.8l-5.8 5.8M521.6 317.8l5.8 5.8m0 -5.8l-5.8 5.8M524.5 316.2l5.8 5.8m0 -5.8l-5.8 5.8M527.4 314.6l5.8 5.8m0 -5.8l-5.8 5.8M530.4 313.0l5.8 5.8m0 -5.8l-5.8 5.8M533.3 311.4l5.8 5.8m0 -5.8l-5.8 5.8M536.2 309.8l5.8 5.8m0 -5.8l-5.8 5.8M539.1 308.2l5.8 5.8m0 -5.8l-5.8 5.8M542.0 306.6l5.8 5.8m0 -5.8l-5.8 5.8M544.9 305.0l5.8 5.8m0 -5.8l-5.8 5.8M547.8 303.5l5.8 5.8m0 -5.8l-5.8 5.8M550.7 301.9l5.8 5.8m0 -5.8l-5.8 5.8M553.6 300.4l5.8 5.8m0 -5.8l-5.8 5.8M556.6 298.8l5.8 5.8m0 -5.8l-5.8 5.8M559.5 297.3l5.8 5.8m0 -5.8l-5.8 5.8M562.4 295.7l5.8 5.8m0 -5.8l-5.8 5.8M565.3 294.2l5.8 5.8m0 -5.8l-5.8 5.8M568.2 292.7l5.8 5.8m0 -5.8l-5.8 5.8M571.1 291.1l5.8 5.8m0 -5.8l-5.8 5.8M574.0 289.6l5.8 5.8m0 -5.8l-5.8 5.8M576.9 288.1l5.8 5.8m0 -5.8l-5.8 5.8M579.8 286.6l5.8 5.8m0 -5.8l-5.8 5.8M582.8 285.1l5.8 5.8m0 -5.8l-5.8 5.8" stroke="#ff0000" stroke-width="0.6"/>
</g>
<rect x="221.7" y="274.2" width="229.8" height="71.0" fill="#000"/>
<rect x="214.7" y="267.2" width="229.8" height="71.0" fill="#fff" stroke="#000" stroke-width="1"/>
<path d="M242.5 281.2l3.4 3.4l-3.4 3.4l-3.4-3.4z" fill="#000"/>
<path d="M239.6 316.1l6 6m0-6l-6 6" stroke="#ff0000" stroke-width="0.8" fill="none"/>
<text transform="translate(273.4 291.8) scale(1 1.045)" font-size="21.7">E<tspan dx="-0.98" dy="5.6" font-size="13.5" class="n" style="letter-spacing:-0.125em">⊥</tspan><tspan dy="-5.6">=0.15 eV,<tspan class="s" dx="0.5" style="font-size:112%;letter-spacing:-0.2px">μ</tspan>=2</tspan></text>
<text transform="translate(273.4 326.8) scale(1 1.045)" font-size="21.7">E<tspan dx="-0.98" dy="5.6" font-size="13.5" class="n" style="letter-spacing:-0.125em">⊥</tspan><tspan dy="-5.6">=0.017 eV,<tspan class="s" dx="0.5" style="font-size:112%;letter-spacing:-0.2px">μ</tspan>=2</tspan></text>
<rect x="162.7" y="369.3" width="175.60000000000002" height="28.5" fill="#000"/>
<rect x="155.7" y="362.3" width="175.60000000000002" height="28.5" fill="#fff" stroke="#000" stroke-width="1"/>
<path d="M158.7 377.9H199" stroke="#008000" stroke-width="4.6" stroke-dasharray="0 7.83" stroke-linecap="round" fill="none"/>
<text transform="translate(208.3 384.5) scale(1 1.045)" font-size="19.5" text-anchor="start" >intraband,<tspan class="s" dx="0.2" style="font-size:112%;letter-spacing:0px">μ</tspan>=2</text>
<rect x="238.4" y="570" width="366.9" height="61.700000000000045" fill="#000"/>
<rect x="231.4" y="563" width="366.9" height="61.700000000000045" fill="#fff" stroke="#000" stroke-width="1"/>
<path d="M235 580.7H278" stroke="#000" stroke-width="3.4" stroke-dasharray="12 16.5" stroke-linecap="round" fill="none"/>
<path d="M235 610H284" stroke="#3a6ea5" stroke-width="3.4" stroke-dasharray="14 9.5 1 9.5" stroke-linecap="round" fill="none"/>
<text transform="translate(289.8 588.3) scale(1 1.045)" font-size="21.8" text-anchor="start" >Bilayer silicene(classical),<tspan class="s" dx="0.4" style="font-size:112%;letter-spacing:0px">μ</tspan>=2</text>
<text transform="translate(289.8 617.0) scale(1 1.045)" font-size="21.8" text-anchor="start" >Bilayer silicene(classical),<tspan class="s" dx="0.4" style="font-size:112%;letter-spacing:0px">μ</tspan>=0.1</text>
<rect x="595.5" y="344" width="111.5" height="215.20000000000005" fill="#000"/>
<rect x="588.5" y="337" width="111.5" height="215.20000000000005" fill="#fff" stroke="#000" stroke-width="1"/>
<path d="M590.4 350.9H630.7" stroke="#000" stroke-width="2.6" fill="none"/>
<text transform="translate(635.6 356.8) scale(1 1.045)" font-size="16">E<tspan dx="0.48" dy="4.8" font-size="9.9" class="n" style="letter-spacing:-0.06em">⊥</tspan><tspan dy="-4.8">=0.1</tspan></text>
<path d="M590.4 378.3H630.7" stroke="#ff0000" stroke-width="2.6" fill="none"/>
<text transform="translate(635.6 384.2) scale(1 1.045)" font-size="16">E<tspan dx="0.48" dy="4.8" font-size="9.9" class="n" style="letter-spacing:-0.06em">⊥</tspan><tspan dy="-4.8">=0.1</tspan></text>
<path d="M590.4 405.7H630.7" stroke="#00ff00" stroke-width="2.6" fill="none"/>
<text transform="translate(635.6 411.6) scale(1 1.045)" font-size="16">E<tspan dx="0.48" dy="4.8" font-size="9.9" class="n" style="letter-spacing:-0.06em">⊥</tspan><tspan dy="-4.8">=0.1</tspan></text>
<path d="M590.4 433.0H630.7" stroke="#0000ff" stroke-width="2.6" fill="none"/>
<text transform="translate(635.6 438.9) scale(1 1.045)" font-size="16">E<tspan dx="0.48" dy="4.8" font-size="9.9" class="n" style="letter-spacing:-0.06em">⊥</tspan><tspan dy="-4.8">=0.1</tspan></text>
<path d="M590.4 460.4H630.7" stroke="#00ffff" stroke-width="2.6" fill="none"/>
<text transform="translate(635.6 466.3) scale(1 1.045)" font-size="16">E<tspan dx="0.48" dy="4.8" font-size="9.9" class="n" style="letter-spacing:-0.06em">⊥</tspan><tspan dy="-4.8">=0.1</tspan></text>
<path d="M590.4 487.7H630.7" stroke="#ff00ff" stroke-width="2.6" fill="none"/>
<text transform="translate(635.6 493.6) scale(1 1.045)" font-size="16">E<tspan dx="0.48" dy="4.8" font-size="9.9" class="n" style="letter-spacing:-0.06em">⊥</tspan><tspan dy="-4.8">=0.1</tspan></text>
<path d="M590.4 515.1H630.7" stroke="#ffff00" stroke-width="2.6" fill="none"/>
<text transform="translate(635.6 521.0) scale(1 1.045)" font-size="16">E<tspan dx="0.48" dy="4.8" font-size="9.9" class="n" style="letter-spacing:-0.06em">⊥</tspan><tspan dy="-4.8">=0.1</tspan></text>
<path d="M590.4 540.2H630.7" stroke="#808000" stroke-width="2.6" fill="none"/>
<text transform="translate(635.6 546.1) scale(1 1.045)" font-size="16" text-anchor="start" style="letter-spacing:0.4px">Bilayer</text>
<path d="M235.5 397.3L203.7 439.7" stroke="#000" stroke-width="2.4" fill="none"/>
<path d="M196.0 449.9L200.6 437.3L206.8 442.0z" fill="#000"/>
<path d="M361.8 344.5L382.0 389.4" stroke="#000" stroke-width="2.4" fill="none"/>
<path d="M387.2 401.1L378.4 391.0L385.5 387.8z" fill="#000"/>
</svg></body></html>
